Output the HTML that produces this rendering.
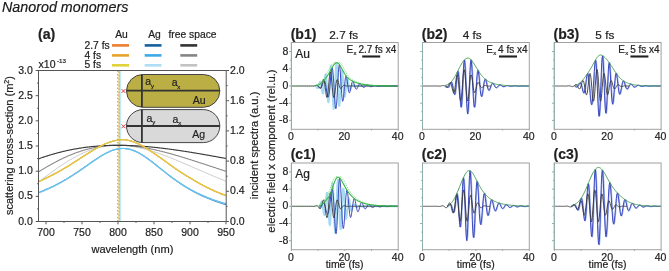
<!DOCTYPE html>
<html><head><meta charset="utf-8"><style>
html,body{margin:0;padding:0;background:#fff;}
svg{display:block;font-family:"Liberation Sans", sans-serif;will-change:transform;}
</style></head><body>
<svg width="669" height="271" viewBox="0 0 669 271">
<rect width="669" height="271" fill="#fff"/>
<text x="2.00" y="11.85" font-size="14.3" text-anchor="start" font-style="italic" fill="#1a1a1a" stroke="#1a1a1a" stroke-width="0.2" >Nanorod monomers</text>
<text x="38.00" y="39.00" font-size="14.2" text-anchor="start" font-weight="bold" fill="#222" stroke="#222" stroke-width="0.2" >(a)</text>
<text x="121.50" y="37.60" font-size="10.3" text-anchor="middle" fill="#222" stroke="#222" stroke-width="0.2" >Au</text>
<text x="154.50" y="37.60" font-size="10.3" text-anchor="middle" fill="#222" stroke="#222" stroke-width="0.2" >Ag</text>
<text x="192.50" y="37.60" font-size="10.3" text-anchor="middle" fill="#222" stroke="#222" stroke-width="0.2" >free space</text>
<text x="84.50" y="48.50" font-size="10.3" text-anchor="start" fill="#222" stroke="#222" stroke-width="0.2" >2.7 fs</text>
<text x="84.50" y="58.50" font-size="10.3" text-anchor="start" fill="#222" stroke="#222" stroke-width="0.2" >4 fs</text>
<text x="84.50" y="68.40" font-size="10.3" text-anchor="start" fill="#222" stroke="#222" stroke-width="0.2" >5 fs</text>
<line x1="112.00" y1="45.40" x2="129.00" y2="45.40" stroke="#ED7D31" stroke-width="2.6" />
<line x1="144.70" y1="45.40" x2="161.50" y2="45.40" stroke="#13609F" stroke-width="2.6" />
<line x1="180.30" y1="45.40" x2="197.20" y2="45.40" stroke="#333333" stroke-width="2.6" />
<line x1="112.00" y1="55.40" x2="129.00" y2="55.40" stroke="#E6A42B" stroke-width="2.6" />
<line x1="144.70" y1="55.40" x2="161.50" y2="55.40" stroke="#3CAAE6" stroke-width="2.6" />
<line x1="180.30" y1="55.40" x2="197.20" y2="55.40" stroke="#858585" stroke-width="2.6" />
<line x1="112.00" y1="65.30" x2="129.00" y2="65.30" stroke="#E2D23A" stroke-width="2.6" />
<line x1="144.70" y1="65.30" x2="161.50" y2="65.30" stroke="#AEDDF4" stroke-width="2.6" />
<line x1="180.30" y1="65.30" x2="197.20" y2="65.30" stroke="#C3C3C3" stroke-width="2.6" />
<text x="38.60" y="68.00" font-size="10.5" text-anchor="start" fill="#222" stroke="#222" stroke-width="0.2" >x10</text>
<text x="57.00" y="62.80" font-size="6.2" text-anchor="start" fill="#222" stroke="#222" stroke-width="0.2" >-13</text>
<clipPath id="ca"><rect x="38.5" y="70.5" width="187.7" height="151"/></clipPath>
<g clip-path="url(#ca)">
<line x1="117.8" y1="70.5" x2="117.8" y2="221" stroke="#A2AABA" stroke-width="1.4" stroke-dasharray="1.5 1.9"/>
<line x1="119.2" y1="70.5" x2="119.2" y2="221" stroke="#E9CC68" stroke-width="1.3"/>
<line x1="119.2" y1="71.5" x2="119.2" y2="221" stroke="#E6B050" stroke-width="1.3" stroke-dasharray="1.5 1.9"/>
<line x1="120.6" y1="70.5" x2="120.6" y2="221" stroke="#C4EAF4" stroke-width="1.3"/>
<polyline points="38.44,182.02 39.07,181.55 39.69,181.07 40.32,180.60 40.95,180.13 41.58,179.66 42.20,179.18 42.83,178.71 43.46,178.24 44.09,177.77 44.71,177.30 45.34,176.83 45.97,176.36 46.59,175.89 47.22,175.43 47.85,174.96 48.48,174.50 49.10,174.03 49.73,173.57 50.36,173.11 50.99,172.65 51.61,172.19 52.24,171.74 52.87,171.28 53.49,170.83 54.12,170.38 54.75,169.93 55.38,169.49 56.00,169.04 56.63,168.60 57.26,168.16 57.89,167.72 58.51,167.29 59.14,166.86 59.77,166.43 60.40,166.00 61.02,165.58 61.65,165.16 62.28,164.74 62.90,164.33 63.53,163.92 64.16,163.51 64.79,163.10 65.41,162.70 66.04,162.30 66.67,161.91 67.30,161.52 67.92,161.13 68.55,160.75 69.18,160.37 69.80,159.99 70.43,159.62 71.06,159.25 71.69,158.89 72.31,158.53 72.94,158.18 73.57,157.82 74.20,157.48 74.82,157.13 75.45,156.80 76.08,156.46 76.70,156.13 77.33,155.81 77.96,155.48 78.59,155.17 79.21,154.86 79.84,154.55 80.47,154.25 81.10,153.95 81.72,153.66 82.35,153.37 82.98,153.08 83.60,152.81 84.23,152.53 84.86,152.26 85.49,152.00 86.11,151.74 86.74,151.49 87.37,151.24 88.00,150.99 88.62,150.75 89.25,150.52 89.88,150.29 90.51,150.07 91.13,149.85 91.76,149.64 92.39,149.43 93.01,149.23 93.64,149.03 94.27,148.83 94.90,148.65 95.52,148.46 96.15,148.29 96.78,148.11 97.41,147.95 98.03,147.79 98.66,147.63 99.29,147.48 99.91,147.33 100.54,147.19 101.17,147.06 101.80,146.92 102.42,146.80 103.05,146.68 103.68,146.56 104.31,146.45 104.93,146.35 105.56,146.25 106.19,146.15 106.81,146.06 107.44,145.98 108.07,145.90 108.70,145.83 109.32,145.76 109.95,145.69 110.58,145.63 111.21,145.58 111.83,145.53 112.46,145.48 113.09,145.44 113.71,145.41 114.34,145.38 114.97,145.35 115.60,145.33 116.22,145.32 116.85,145.31 117.48,145.30 118.11,145.30 118.73,145.30 119.36,145.31 119.99,145.32 120.62,145.34 121.24,145.36 121.87,145.39 122.50,145.42 123.12,145.45 123.75,145.49 124.38,145.53 125.01,145.58 125.63,145.63 126.26,145.69 126.89,145.75 127.52,145.82 128.14,145.88 128.77,145.96 129.40,146.03 130.02,146.12 130.65,146.20 131.28,146.29 131.91,146.38 132.53,146.48 133.16,146.58 133.79,146.68 134.42,146.79 135.04,146.90 135.67,147.02 136.30,147.14 136.92,147.26 137.55,147.38 138.18,147.51 138.81,147.65 139.43,147.78 140.06,147.92 140.69,148.06 141.32,148.21 141.94,148.36 142.57,148.51 143.20,148.67 143.82,148.82 144.45,148.99 145.08,149.15 145.71,149.32 146.33,149.49 146.96,149.66 147.59,149.84 148.22,150.02 148.84,150.20 149.47,150.38 150.10,150.57 150.73,150.76 151.35,150.95 151.98,151.14 152.61,151.34 153.23,151.54 153.86,151.74 154.49,151.95 155.12,152.15 155.74,152.36 156.37,152.57 157.00,152.78 157.63,153.00 158.25,153.22 158.88,153.44 159.51,153.66 160.13,153.88 160.76,154.10 161.39,154.33 162.02,154.56 162.64,154.79 163.27,155.02 163.90,155.26 164.53,155.49 165.15,155.73 165.78,155.97 166.41,156.21 167.03,156.45 167.66,156.69 168.29,156.94 168.92,157.18 169.54,157.43 170.17,157.68 170.80,157.93 171.43,158.18 172.05,158.43 172.68,158.68 173.31,158.94 173.93,159.19 174.56,159.45 175.19,159.71 175.82,159.97 176.44,160.23 177.07,160.49 177.70,160.75 178.33,161.01 178.95,161.27 179.58,161.54 180.21,161.80 180.84,162.07 181.46,162.33 182.09,162.60 182.72,162.87 183.34,163.13 183.97,163.40 184.60,163.67 185.23,163.94 185.85,164.21 186.48,164.48 187.11,164.75 187.74,165.02 188.36,165.29 188.99,165.56 189.62,165.83 190.24,166.11 190.87,166.38 191.50,166.65 192.13,166.92 192.75,167.19 193.38,167.47 194.01,167.74 194.64,168.01 195.26,168.29 195.89,168.56 196.52,168.83 197.14,169.10 197.77,169.38 198.40,169.65 199.03,169.92 199.65,170.19 200.28,170.47 200.91,170.74 201.54,171.01 202.16,171.28 202.79,171.55 203.42,171.82 204.04,172.09 204.67,172.36 205.30,172.63 205.93,172.90 206.55,173.17 207.18,173.44 207.81,173.71 208.44,173.98 209.06,174.25 209.69,174.52 210.32,174.78 210.95,175.05 211.57,175.31 212.20,175.58 212.83,175.84 213.45,176.11 214.08,176.37 214.71,176.64 215.34,176.90 215.96,177.16 216.59,177.42 217.22,177.68 217.85,177.94 218.47,178.20 219.10,178.46 219.73,178.72 220.35,178.97 220.98,179.23 221.61,179.49 222.24,179.74 222.86,180.00 223.49,180.25 224.12,180.50 224.75,180.75 225.37,181.00 226.00,181.25" fill="none" stroke="#C4C4C4" stroke-width="1.0" stroke-linejoin="round" />
<polyline points="38.44,171.93 39.07,171.54 39.69,171.16 40.32,170.77 40.95,170.39 41.58,170.01 42.20,169.63 42.83,169.25 43.46,168.87 44.09,168.50 44.71,168.12 45.34,167.75 45.97,167.38 46.59,167.02 47.22,166.65 47.85,166.29 48.48,165.93 49.10,165.57 49.73,165.22 50.36,164.86 50.99,164.51 51.61,164.16 52.24,163.82 52.87,163.47 53.49,163.13 54.12,162.79 54.75,162.46 55.38,162.12 56.00,161.79 56.63,161.46 57.26,161.14 57.89,160.81 58.51,160.49 59.14,160.18 59.77,159.86 60.40,159.55 61.02,159.24 61.65,158.94 62.28,158.63 62.90,158.34 63.53,158.04 64.16,157.75 64.79,157.46 65.41,157.17 66.04,156.88 66.67,156.60 67.30,156.33 67.92,156.05 68.55,155.78 69.18,155.51 69.80,155.25 70.43,154.99 71.06,154.73 71.69,154.47 72.31,154.22 72.94,153.97 73.57,153.73 74.20,153.49 74.82,153.25 75.45,153.02 76.08,152.78 76.70,152.56 77.33,152.33 77.96,152.11 78.59,151.90 79.21,151.68 79.84,151.47 80.47,151.27 81.10,151.06 81.72,150.86 82.35,150.67 82.98,150.48 83.60,150.29 84.23,150.10 84.86,149.92 85.49,149.74 86.11,149.57 86.74,149.40 87.37,149.23 88.00,149.07 88.62,148.91 89.25,148.75 89.88,148.60 90.51,148.45 91.13,148.30 91.76,148.16 92.39,148.02 93.01,147.89 93.64,147.75 94.27,147.63 94.90,147.50 95.52,147.38 96.15,147.26 96.78,147.15 97.41,147.04 98.03,146.93 98.66,146.83 99.29,146.73 99.91,146.63 100.54,146.54 101.17,146.45 101.80,146.36 102.42,146.28 103.05,146.20 103.68,146.13 104.31,146.06 104.93,145.99 105.56,145.92 106.19,145.86 106.81,145.80 107.44,145.74 108.07,145.69 108.70,145.64 109.32,145.60 109.95,145.56 110.58,145.52 111.21,145.48 111.83,145.45 112.46,145.42 113.09,145.39 113.71,145.37 114.34,145.35 114.97,145.34 115.60,145.32 116.22,145.31 116.85,145.31 117.48,145.30 118.11,145.30 118.73,145.30 119.36,145.31 119.99,145.32 120.62,145.33 121.24,145.34 121.87,145.36 122.50,145.38 123.12,145.40 123.75,145.42 124.38,145.45 125.01,145.48 125.63,145.52 126.26,145.56 126.89,145.59 127.52,145.64 128.14,145.68 128.77,145.73 129.40,145.78 130.02,145.83 130.65,145.89 131.28,145.95 131.91,146.01 132.53,146.07 133.16,146.14 133.79,146.21 134.42,146.28 135.04,146.35 135.67,146.42 136.30,146.50 136.92,146.58 137.55,146.67 138.18,146.75 138.81,146.84 139.43,146.93 140.06,147.02 140.69,147.12 141.32,147.21 141.94,147.31 142.57,147.41 143.20,147.51 143.82,147.62 144.45,147.73 145.08,147.84 145.71,147.95 146.33,148.06 146.96,148.18 147.59,148.29 148.22,148.41 148.84,148.53 149.47,148.66 150.10,148.78 150.73,148.91 151.35,149.04 151.98,149.17 152.61,149.30 153.23,149.43 153.86,149.57 154.49,149.71 155.12,149.85 155.74,149.99 156.37,150.13 157.00,150.27 157.63,150.42 158.25,150.57 158.88,150.71 159.51,150.86 160.13,151.02 160.76,151.17 161.39,151.32 162.02,151.48 162.64,151.64 163.27,151.80 163.90,151.96 164.53,152.12 165.15,152.28 165.78,152.44 166.41,152.61 167.03,152.78 167.66,152.94 168.29,153.11 168.92,153.28 169.54,153.46 170.17,153.63 170.80,153.80 171.43,153.98 172.05,154.15 172.68,154.33 173.31,154.51 173.93,154.69 174.56,154.87 175.19,155.05 175.82,155.23 176.44,155.41 177.07,155.59 177.70,155.78 178.33,155.96 178.95,156.15 179.58,156.34 180.21,156.53 180.84,156.71 181.46,156.90 182.09,157.09 182.72,157.28 183.34,157.48 183.97,157.67 184.60,157.86 185.23,158.06 185.85,158.25 186.48,158.44 187.11,158.64 187.74,158.84 188.36,159.03 188.99,159.23 189.62,159.43 190.24,159.63 190.87,159.83 191.50,160.02 192.13,160.22 192.75,160.42 193.38,160.63 194.01,160.83 194.64,161.03 195.26,161.23 195.89,161.43 196.52,161.63 197.14,161.84 197.77,162.04 198.40,162.24 199.03,162.45 199.65,162.65 200.28,162.86 200.91,163.06 201.54,163.27 202.16,163.47 202.79,163.68 203.42,163.88 204.04,164.09 204.67,164.29 205.30,164.50 205.93,164.71 206.55,164.91 207.18,165.12 207.81,165.32 208.44,165.53 209.06,165.74 209.69,165.94 210.32,166.15 210.95,166.36 211.57,166.56 212.20,166.77 212.83,166.98 213.45,167.19 214.08,167.39 214.71,167.60 215.34,167.81 215.96,168.01 216.59,168.22 217.22,168.43 217.85,168.63 218.47,168.84 219.10,169.04 219.73,169.25 220.35,169.46 220.98,169.66 221.61,169.87 222.24,170.07 222.86,170.28 223.49,170.48 224.12,170.69 224.75,170.89 225.37,171.10 226.00,171.30" fill="none" stroke="#8A8A8A" stroke-width="1.1" stroke-linejoin="round" />
<polyline points="38.44,158.87 39.07,158.65 39.69,158.42 40.32,158.20 40.95,157.99 41.58,157.77 42.20,157.56 42.83,157.34 43.46,157.13 44.09,156.92 44.71,156.72 45.34,156.51 45.97,156.31 46.59,156.11 47.22,155.91 47.85,155.71 48.48,155.51 49.10,155.32 49.73,155.13 50.36,154.94 50.99,154.75 51.61,154.56 52.24,154.38 52.87,154.20 53.49,154.02 54.12,153.84 54.75,153.66 55.38,153.49 56.00,153.32 56.63,153.14 57.26,152.98 57.89,152.81 58.51,152.64 59.14,152.48 59.77,152.32 60.40,152.16 61.02,152.00 61.65,151.85 62.28,151.69 62.90,151.54 63.53,151.39 64.16,151.25 64.79,151.10 65.41,150.96 66.04,150.81 66.67,150.67 67.30,150.54 67.92,150.40 68.55,150.27 69.18,150.13 69.80,150.00 70.43,149.88 71.06,149.75 71.69,149.62 72.31,149.50 72.94,149.38 73.57,149.26 74.20,149.14 74.82,149.03 75.45,148.92 76.08,148.81 76.70,148.70 77.33,148.59 77.96,148.48 78.59,148.38 79.21,148.28 79.84,148.18 80.47,148.08 81.10,147.98 81.72,147.89 82.35,147.79 82.98,147.70 83.60,147.61 84.23,147.53 84.86,147.44 85.49,147.36 86.11,147.27 86.74,147.19 87.37,147.12 88.00,147.04 88.62,146.96 89.25,146.89 89.88,146.82 90.51,146.75 91.13,146.68 91.76,146.62 92.39,146.55 93.01,146.49 93.64,146.43 94.27,146.37 94.90,146.31 95.52,146.25 96.15,146.20 96.78,146.15 97.41,146.10 98.03,146.05 98.66,146.00 99.29,145.95 99.91,145.91 100.54,145.87 101.17,145.83 101.80,145.79 102.42,145.75 103.05,145.71 103.68,145.68 104.31,145.64 104.93,145.61 105.56,145.58 106.19,145.55 106.81,145.53 107.44,145.50 108.07,145.48 108.70,145.46 109.32,145.44 109.95,145.42 110.58,145.40 111.21,145.38 111.83,145.37 112.46,145.35 113.09,145.34 113.71,145.33 114.34,145.32 114.97,145.32 115.60,145.31 116.22,145.31 116.85,145.30 117.48,145.30 118.11,145.30 118.73,145.30 119.36,145.30 119.99,145.31 120.62,145.31 121.24,145.32 121.87,145.33 122.50,145.33 123.12,145.35 123.75,145.36 124.38,145.37 125.01,145.38 125.63,145.40 126.26,145.42 126.89,145.43 127.52,145.45 128.14,145.47 128.77,145.50 129.40,145.52 130.02,145.54 130.65,145.57 131.28,145.60 131.91,145.62 132.53,145.65 133.16,145.68 133.79,145.71 134.42,145.75 135.04,145.78 135.67,145.81 136.30,145.85 136.92,145.89 137.55,145.93 138.18,145.96 138.81,146.00 139.43,146.05 140.06,146.09 140.69,146.13 141.32,146.18 141.94,146.22 142.57,146.27 143.20,146.32 143.82,146.37 144.45,146.41 145.08,146.47 145.71,146.52 146.33,146.57 146.96,146.62 147.59,146.68 148.22,146.73 148.84,146.79 149.47,146.85 150.10,146.91 150.73,146.96 151.35,147.03 151.98,147.09 152.61,147.15 153.23,147.21 153.86,147.27 154.49,147.34 155.12,147.40 155.74,147.47 156.37,147.54 157.00,147.61 157.63,147.68 158.25,147.74 158.88,147.82 159.51,147.89 160.13,147.96 160.76,148.03 161.39,148.11 162.02,148.18 162.64,148.25 163.27,148.33 163.90,148.41 164.53,148.48 165.15,148.56 165.78,148.64 166.41,148.72 167.03,148.80 167.66,148.88 168.29,148.96 168.92,149.05 169.54,149.13 170.17,149.21 170.80,149.30 171.43,149.38 172.05,149.47 172.68,149.55 173.31,149.64 173.93,149.73 174.56,149.82 175.19,149.91 175.82,149.99 176.44,150.08 177.07,150.18 177.70,150.27 178.33,150.36 178.95,150.45 179.58,150.54 180.21,150.64 180.84,150.73 181.46,150.82 182.09,150.92 182.72,151.01 183.34,151.11 183.97,151.21 184.60,151.30 185.23,151.40 185.85,151.50 186.48,151.60 187.11,151.70 187.74,151.80 188.36,151.90 188.99,152.00 189.62,152.10 190.24,152.20 190.87,152.30 191.50,152.40 192.13,152.50 192.75,152.61 193.38,152.71 194.01,152.81 194.64,152.92 195.26,153.02 195.89,153.13 196.52,153.23 197.14,153.34 197.77,153.45 198.40,153.55 199.03,153.66 199.65,153.77 200.28,153.87 200.91,153.98 201.54,154.09 202.16,154.20 202.79,154.31 203.42,154.41 204.04,154.52 204.67,154.63 205.30,154.74 205.93,154.85 206.55,154.96 207.18,155.08 207.81,155.19 208.44,155.30 209.06,155.41 209.69,155.52 210.32,155.63 210.95,155.75 211.57,155.86 212.20,155.97 212.83,156.09 213.45,156.20 214.08,156.31 214.71,156.43 215.34,156.54 215.96,156.65 216.59,156.77 217.22,156.88 217.85,157.00 218.47,157.11 219.10,157.23 219.73,157.34 220.35,157.46 220.98,157.58 221.61,157.69 222.24,157.81 222.86,157.92 223.49,158.04 224.12,158.16 224.75,158.27 225.37,158.39 226.00,158.51" fill="none" stroke="#3C3C3C" stroke-width="1.15" stroke-linejoin="round" />
<polyline points="38.44,192.63 39.07,192.39 39.69,192.15 40.32,191.90 40.95,191.66 41.58,191.41 42.20,191.16 42.83,190.91 43.46,190.65 44.09,190.39 44.71,190.13 45.34,189.86 45.97,189.59 46.59,189.32 47.22,189.05 47.85,188.77 48.48,188.49 49.10,188.21 49.73,187.92 50.36,187.63 50.99,187.34 51.61,187.04 52.24,186.74 52.87,186.44 53.49,186.14 54.12,185.83 54.75,185.52 55.38,185.20 56.00,184.89 56.63,184.57 57.26,184.24 57.89,183.91 58.51,183.58 59.14,183.25 59.77,182.91 60.40,182.57 61.02,182.23 61.65,181.88 62.28,181.53 62.90,181.18 63.53,180.82 64.16,180.46 64.79,180.10 65.41,179.73 66.04,179.36 66.67,178.99 67.30,178.61 67.92,178.23 68.55,177.85 69.18,177.47 69.80,177.08 70.43,176.69 71.06,176.29 71.69,175.90 72.31,175.50 72.94,175.09 73.57,174.69 74.20,174.28 74.82,173.87 75.45,173.46 76.08,173.04 76.70,172.62 77.33,172.20 77.96,171.78 78.59,171.35 79.21,170.93 79.84,170.50 80.47,170.07 81.10,169.64 81.72,169.20 82.35,168.77 82.98,168.33 83.60,167.89 84.23,167.45 84.86,167.01 85.49,166.57 86.11,166.13 86.74,165.69 87.37,165.25 88.00,164.81 88.62,164.37 89.25,163.93 89.88,163.49 90.51,163.05 91.13,162.61 91.76,162.18 92.39,161.74 93.01,161.31 93.64,160.88 94.27,160.45 94.90,160.02 95.52,159.60 96.15,159.18 96.78,158.76 97.41,158.35 98.03,157.94 98.66,157.54 99.29,157.14 99.91,156.74 100.54,156.35 101.17,155.97 101.80,155.59 102.42,155.22 103.05,154.85 103.68,154.50 104.31,154.14 104.93,153.80 105.56,153.47 106.19,153.14 106.81,152.82 107.44,152.51 108.07,152.21 108.70,151.91 109.32,151.63 109.95,151.36 110.58,151.10 111.21,150.85 111.83,150.61 112.46,150.38 113.09,150.16 113.71,149.96 114.34,149.77 114.97,149.59 115.60,149.42 116.22,149.26 116.85,149.12 117.48,148.99 118.11,148.88 118.73,148.78 119.36,148.69 119.99,148.61 120.62,148.55 121.24,148.51 121.87,148.48 122.50,148.46 123.12,148.46 123.75,148.47 124.38,148.50 125.01,148.54 125.63,148.59 126.26,148.66 126.89,148.75 127.52,148.85 128.14,148.96 128.77,149.09 129.40,149.23 130.02,149.39 130.65,149.56 131.28,149.74 131.91,149.94 132.53,150.15 133.16,150.38 133.79,150.62 134.42,150.87 135.04,151.13 135.67,151.41 136.30,151.70 136.92,152.00 137.55,152.31 138.18,152.63 138.81,152.96 139.43,153.31 140.06,153.66 140.69,154.03 141.32,154.40 141.94,154.78 142.57,155.18 143.20,155.58 143.82,155.99 144.45,156.40 145.08,156.83 145.71,157.26 146.33,157.70 146.96,158.14 147.59,158.59 148.22,159.05 148.84,159.51 149.47,159.98 150.10,160.45 150.73,160.93 151.35,161.41 151.98,161.89 152.61,162.38 153.23,162.87 153.86,163.36 154.49,163.86 155.12,164.35 155.74,164.85 156.37,165.35 157.00,165.86 157.63,166.36 158.25,166.86 158.88,167.37 159.51,167.87 160.13,168.38 160.76,168.88 161.39,169.38 162.02,169.89 162.64,170.39 163.27,170.89 163.90,171.39 164.53,171.89 165.15,172.39 165.78,172.88 166.41,173.38 167.03,173.87 167.66,174.36 168.29,174.84 168.92,175.33 169.54,175.81 170.17,176.29 170.80,176.77 171.43,177.24 172.05,177.71 172.68,178.17 173.31,178.64 173.93,179.10 174.56,179.55 175.19,180.01 175.82,180.46 176.44,180.90 177.07,181.35 177.70,181.78 178.33,182.22 178.95,182.65 179.58,183.08 180.21,183.50 180.84,183.92 181.46,184.34 182.09,184.75 182.72,185.16 183.34,185.56 183.97,185.96 184.60,186.36 185.23,186.75 185.85,187.14 186.48,187.52 187.11,187.90 187.74,188.27 188.36,188.65 188.99,189.01 189.62,189.38 190.24,189.74 190.87,190.09 191.50,190.45 192.13,190.79 192.75,191.14 193.38,191.48 194.01,191.82 194.64,192.15 195.26,192.48 195.89,192.80 196.52,193.12 197.14,193.44 197.77,193.76 198.40,194.07 199.03,194.37 199.65,194.68 200.28,194.98 200.91,195.27 201.54,195.56 202.16,195.85 202.79,196.14 203.42,196.42 204.04,196.70 204.67,196.98 205.30,197.25 205.93,197.52 206.55,197.78 207.18,198.05 207.81,198.31 208.44,198.56 209.06,198.82 209.69,199.07 210.32,199.31 210.95,199.56 211.57,199.80 212.20,200.04 212.83,200.27 213.45,200.51 214.08,200.74 214.71,200.96 215.34,201.19 215.96,201.41 216.59,201.63 217.22,201.85 217.85,202.06 218.47,202.27 219.10,202.48 219.73,202.69 220.35,202.89 220.98,203.09 221.61,203.29 222.24,203.49 222.86,203.68 223.49,203.88 224.12,204.07 224.75,204.25 225.37,204.43 226.00,204.61" fill="none" stroke="#2C7CC0" stroke-width="1.1" stroke-linejoin="round" />
<polyline points="38.44,193.23 39.07,192.99 39.69,192.75 40.32,192.50 40.95,192.25 41.58,192.00 42.20,191.74 42.83,191.48 43.46,191.22 44.09,190.95 44.71,190.69 45.34,190.42 45.97,190.14 46.59,189.86 47.22,189.59 47.85,189.30 48.48,189.02 49.10,188.73 49.73,188.44 50.36,188.14 50.99,187.84 51.61,187.54 52.24,187.24 52.87,186.93 53.49,186.62 54.12,186.31 54.75,185.99 55.38,185.67 56.00,185.35 56.63,185.02 57.26,184.69 57.89,184.36 58.51,184.03 59.14,183.69 59.77,183.34 60.40,183.00 61.02,182.65 61.65,182.30 62.28,181.94 62.90,181.58 63.53,181.22 64.16,180.85 64.79,180.49 65.41,180.11 66.04,179.74 66.67,179.36 67.30,178.98 67.92,178.60 68.55,178.21 69.18,177.82 69.80,177.42 70.43,177.03 71.06,176.63 71.69,176.23 72.31,175.82 72.94,175.41 73.57,175.00 74.20,174.59 74.82,174.17 75.45,173.75 76.08,173.33 76.70,172.91 77.33,172.48 77.96,172.05 78.59,171.62 79.21,171.19 79.84,170.76 80.47,170.32 81.10,169.88 81.72,169.44 82.35,169.00 82.98,168.56 83.60,168.12 84.23,167.67 84.86,167.23 85.49,166.78 86.11,166.34 86.74,165.89 87.37,165.45 88.00,165.00 88.62,164.55 89.25,164.11 89.88,163.66 90.51,163.22 91.13,162.77 91.76,162.33 92.39,161.89 93.01,161.45 93.64,161.02 94.27,160.58 94.90,160.15 95.52,159.72 96.15,159.30 96.78,158.88 97.41,158.46 98.03,158.05 98.66,157.64 99.29,157.23 99.91,156.83 100.54,156.44 101.17,156.05 101.80,155.66 102.42,155.28 103.05,154.91 103.68,154.55 104.31,154.19 104.93,153.84 105.56,153.50 106.19,153.17 106.81,152.85 107.44,152.53 108.07,152.22 108.70,151.93 109.32,151.64 109.95,151.36 110.58,151.10 111.21,150.85 111.83,150.61 112.46,150.38 113.09,150.16 113.71,149.96 114.34,149.77 114.97,149.59 115.60,149.42 116.22,149.26 116.85,149.12 117.48,148.99 118.11,148.88 118.73,148.78 119.36,148.69 119.99,148.61 120.62,148.55 121.24,148.51 121.87,148.48 122.50,148.46 123.12,148.46 123.75,148.47 124.38,148.50 125.01,148.54 125.63,148.59 126.26,148.66 126.89,148.75 127.52,148.85 128.14,148.96 128.77,149.09 129.40,149.23 130.02,149.39 130.65,149.56 131.28,149.74 131.91,149.94 132.53,150.15 133.16,150.37 133.79,150.61 134.42,150.86 135.04,151.12 135.67,151.39 136.30,151.68 136.92,151.98 137.55,152.29 138.18,152.61 138.81,152.94 139.43,153.28 140.06,153.63 140.69,153.99 141.32,154.36 141.94,154.74 142.57,155.13 143.20,155.53 143.82,155.94 144.45,156.35 145.08,156.77 145.71,157.20 146.33,157.63 146.96,158.07 147.59,158.52 148.22,158.97 148.84,159.43 149.47,159.89 150.10,160.36 150.73,160.83 151.35,161.31 151.98,161.79 152.61,162.27 153.23,162.76 153.86,163.25 154.49,163.74 155.12,164.23 155.74,164.73 156.37,165.22 157.00,165.72 157.63,166.22 158.25,166.72 158.88,167.22 159.51,167.72 160.13,168.22 160.76,168.71 161.39,169.21 162.02,169.71 162.64,170.21 163.27,170.71 163.90,171.20 164.53,171.69 165.15,172.19 165.78,172.68 166.41,173.16 167.03,173.65 167.66,174.13 168.29,174.61 168.92,175.09 169.54,175.57 170.17,176.04 170.80,176.51 171.43,176.98 172.05,177.44 172.68,177.90 173.31,178.36 173.93,178.82 174.56,179.27 175.19,179.71 175.82,180.16 176.44,180.60 177.07,181.03 177.70,181.46 178.33,181.89 178.95,182.32 179.58,182.74 180.21,183.16 180.84,183.57 181.46,183.98 182.09,184.38 182.72,184.78 183.34,185.18 183.97,185.57 184.60,185.96 185.23,186.35 185.85,186.73 186.48,187.11 187.11,187.48 187.74,187.85 188.36,188.21 188.99,188.57 189.62,188.93 190.24,189.28 190.87,189.63 191.50,189.98 192.13,190.32 192.75,190.65 193.38,190.99 194.01,191.32 194.64,191.64 195.26,191.96 195.89,192.28 196.52,192.60 197.14,192.91 197.77,193.21 198.40,193.52 199.03,193.81 199.65,194.11 200.28,194.40 200.91,194.69 201.54,194.98 202.16,195.26 202.79,195.54 203.42,195.81 204.04,196.08 204.67,196.35 205.30,196.61 205.93,196.87 206.55,197.13 207.18,197.39 207.81,197.64 208.44,197.89 209.06,198.13 209.69,198.37 210.32,198.61 210.95,198.85 211.57,199.08 212.20,199.31 212.83,199.54 213.45,199.77 214.08,199.99 214.71,200.21 215.34,200.42 215.96,200.64 216.59,200.85 217.22,201.06 217.85,201.26 218.47,201.46 219.10,201.66 219.73,201.86 220.35,202.06 220.98,202.25 221.61,202.44 222.24,202.63 222.86,202.81 223.49,203.00 224.12,203.18 224.75,203.36 225.37,203.53 226.00,203.71" fill="none" stroke="#A9DDF5" stroke-width="1.2" stroke-linejoin="round" />
<polyline points="38.44,192.63 39.07,192.39 39.69,192.15 40.32,191.90 40.95,191.66 41.58,191.41 42.20,191.16 42.83,190.91 43.46,190.65 44.09,190.39 44.71,190.13 45.34,189.86 45.97,189.59 46.59,189.32 47.22,189.05 47.85,188.77 48.48,188.49 49.10,188.21 49.73,187.92 50.36,187.63 50.99,187.34 51.61,187.04 52.24,186.74 52.87,186.44 53.49,186.14 54.12,185.83 54.75,185.52 55.38,185.20 56.00,184.89 56.63,184.57 57.26,184.24 57.89,183.91 58.51,183.58 59.14,183.25 59.77,182.91 60.40,182.57 61.02,182.23 61.65,181.88 62.28,181.53 62.90,181.18 63.53,180.82 64.16,180.46 64.79,180.10 65.41,179.73 66.04,179.36 66.67,178.99 67.30,178.61 67.92,178.23 68.55,177.85 69.18,177.47 69.80,177.08 70.43,176.69 71.06,176.29 71.69,175.90 72.31,175.50 72.94,175.09 73.57,174.69 74.20,174.28 74.82,173.87 75.45,173.46 76.08,173.04 76.70,172.62 77.33,172.20 77.96,171.78 78.59,171.35 79.21,170.93 79.84,170.50 80.47,170.07 81.10,169.64 81.72,169.20 82.35,168.77 82.98,168.33 83.60,167.89 84.23,167.45 84.86,167.01 85.49,166.57 86.11,166.13 86.74,165.69 87.37,165.25 88.00,164.81 88.62,164.37 89.25,163.93 89.88,163.49 90.51,163.05 91.13,162.61 91.76,162.18 92.39,161.74 93.01,161.31 93.64,160.88 94.27,160.45 94.90,160.02 95.52,159.60 96.15,159.18 96.78,158.76 97.41,158.35 98.03,157.94 98.66,157.54 99.29,157.14 99.91,156.74 100.54,156.35 101.17,155.97 101.80,155.59 102.42,155.22 103.05,154.85 103.68,154.50 104.31,154.14 104.93,153.80 105.56,153.47 106.19,153.14 106.81,152.82 107.44,152.51 108.07,152.21 108.70,151.91 109.32,151.63 109.95,151.36 110.58,151.10 111.21,150.85 111.83,150.61 112.46,150.38 113.09,150.16 113.71,149.96 114.34,149.77 114.97,149.59 115.60,149.42 116.22,149.26 116.85,149.12 117.48,148.99 118.11,148.88 118.73,148.78 119.36,148.69 119.99,148.61 120.62,148.55 121.24,148.51 121.87,148.48 122.50,148.46 123.12,148.46 123.75,148.47 124.38,148.50 125.01,148.54 125.63,148.59 126.26,148.66 126.89,148.75 127.52,148.85 128.14,148.96 128.77,149.09 129.40,149.23 130.02,149.39 130.65,149.56 131.28,149.74 131.91,149.94 132.53,150.15 133.16,150.37 133.79,150.61 134.42,150.86 135.04,151.12 135.67,151.39 136.30,151.68 136.92,151.98 137.55,152.29 138.18,152.61 138.81,152.94 139.43,153.28 140.06,153.63 140.69,153.99 141.32,154.36 141.94,154.74 142.57,155.13 143.20,155.53 143.82,155.94 144.45,156.35 145.08,156.77 145.71,157.20 146.33,157.63 146.96,158.07 147.59,158.52 148.22,158.97 148.84,159.43 149.47,159.89 150.10,160.36 150.73,160.83 151.35,161.31 151.98,161.79 152.61,162.27 153.23,162.76 153.86,163.25 154.49,163.74 155.12,164.23 155.74,164.73 156.37,165.22 157.00,165.72 157.63,166.22 158.25,166.72 158.88,167.22 159.51,167.72 160.13,168.22 160.76,168.71 161.39,169.21 162.02,169.71 162.64,170.21 163.27,170.71 163.90,171.20 164.53,171.69 165.15,172.19 165.78,172.68 166.41,173.16 167.03,173.65 167.66,174.13 168.29,174.61 168.92,175.09 169.54,175.57 170.17,176.04 170.80,176.51 171.43,176.98 172.05,177.44 172.68,177.90 173.31,178.36 173.93,178.82 174.56,179.27 175.19,179.71 175.82,180.16 176.44,180.60 177.07,181.03 177.70,181.46 178.33,181.89 178.95,182.32 179.58,182.74 180.21,183.16 180.84,183.57 181.46,183.98 182.09,184.38 182.72,184.78 183.34,185.18 183.97,185.57 184.60,185.96 185.23,186.35 185.85,186.73 186.48,187.11 187.11,187.48 187.74,187.85 188.36,188.21 188.99,188.57 189.62,188.93 190.24,189.28 190.87,189.63 191.50,189.98 192.13,190.32 192.75,190.65 193.38,190.99 194.01,191.32 194.64,191.64 195.26,191.96 195.89,192.28 196.52,192.60 197.14,192.91 197.77,193.21 198.40,193.52 199.03,193.81 199.65,194.11 200.28,194.40 200.91,194.69 201.54,194.98 202.16,195.26 202.79,195.54 203.42,195.81 204.04,196.08 204.67,196.35 205.30,196.61 205.93,196.87 206.55,197.13 207.18,197.39 207.81,197.64 208.44,197.89 209.06,198.13 209.69,198.37 210.32,198.61 210.95,198.85 211.57,199.08 212.20,199.31 212.83,199.54 213.45,199.77 214.08,199.99 214.71,200.21 215.34,200.42 215.96,200.64 216.59,200.85 217.22,201.06 217.85,201.26 218.47,201.46 219.10,201.66 219.73,201.86 220.35,202.06 220.98,202.25 221.61,202.44 222.24,202.63 222.86,202.81 223.49,203.00 224.12,203.18 224.75,203.36 225.37,203.53 226.00,203.71" fill="none" stroke="#62BFEA" stroke-width="1.1" stroke-linejoin="round" />
<polyline points="38.44,181.61 39.07,181.33 39.69,181.04 40.32,180.76 40.95,180.47 41.58,180.18 42.20,179.89 42.83,179.59 43.46,179.29 44.09,178.99 44.71,178.69 45.34,178.39 45.97,178.09 46.59,177.79 47.22,177.49 47.85,177.18 48.48,176.88 49.10,176.57 49.73,176.25 50.36,175.94 50.99,175.62 51.61,175.30 52.24,174.98 52.87,174.66 53.49,174.33 54.12,174.00 54.75,173.67 55.38,173.33 56.00,173.00 56.63,172.66 57.26,172.32 57.89,171.98 58.51,171.63 59.14,171.29 59.77,170.94 60.40,170.59 61.02,170.23 61.65,169.88 62.28,169.52 62.90,169.16 63.53,168.80 64.16,168.44 64.79,168.08 65.41,167.71 66.04,167.34 66.67,166.97 67.30,166.60 67.92,166.23 68.55,165.84 69.18,165.44 69.80,165.05 70.43,164.65 71.06,164.25 71.69,163.85 72.31,163.45 72.94,163.04 73.57,162.64 74.20,162.24 74.82,161.83 75.45,161.43 76.08,161.02 76.70,160.61 77.33,160.21 77.96,159.80 78.59,159.39 79.21,158.98 79.84,158.58 80.47,158.17 81.10,157.76 81.72,157.36 82.35,156.95 82.98,156.55 83.60,156.14 84.23,155.74 84.86,155.34 85.49,154.94 86.11,154.54 86.74,154.14 87.37,153.75 88.00,153.35 88.62,152.96 89.25,152.57 89.88,152.18 90.51,151.80 91.13,151.42 91.76,151.04 92.39,150.66 93.01,150.29 93.64,149.92 94.27,149.56 94.90,149.20 95.52,148.84 96.15,148.49 96.78,148.14 97.41,147.79 98.03,147.46 98.66,147.12 99.29,146.79 99.91,146.47 100.54,146.14 101.17,145.82 101.80,145.51 102.42,145.20 103.05,144.90 103.68,144.60 104.31,144.31 104.93,144.03 105.56,143.75 106.19,143.49 106.81,143.23 107.44,142.98 108.07,142.73 108.70,142.50 109.32,142.27 109.95,142.05 110.58,141.84 111.21,141.64 111.83,141.44 112.46,141.26 113.09,141.09 113.71,140.92 114.34,140.77 114.97,140.62 115.60,140.48 116.22,140.36 116.85,140.24 117.48,140.14 118.11,140.04 118.73,139.96 119.36,139.88 119.99,139.82 120.62,139.76 121.24,139.72 121.87,139.69 122.50,139.67 123.12,139.66 123.75,139.66 124.38,139.70 125.01,139.77 125.63,139.86 126.26,139.95 126.89,140.06 127.52,140.18 128.14,140.30 128.77,140.44 129.40,140.59 130.02,140.75 130.65,140.92 131.28,141.10 131.91,141.30 132.53,141.50 133.16,141.71 133.79,141.93 134.42,142.17 135.04,142.41 135.67,142.66 136.30,142.92 136.92,143.19 137.55,143.47 138.18,143.76 138.81,144.06 139.43,144.37 140.06,144.68 140.69,145.01 141.32,145.34 141.94,145.68 142.57,146.03 143.20,146.38 143.82,146.75 144.45,147.12 145.08,147.50 145.71,147.88 146.33,148.27 146.96,148.67 147.59,149.08 148.22,149.49 148.84,149.90 149.47,150.32 150.10,150.75 150.73,151.18 151.35,151.62 151.98,152.06 152.61,152.47 153.23,152.88 153.86,153.30 154.49,153.72 155.12,154.15 155.74,154.58 156.37,155.01 157.00,155.44 157.63,155.88 158.25,156.32 158.88,156.77 159.51,157.21 160.13,157.66 160.76,158.11 161.39,158.56 162.02,159.01 162.64,159.46 163.27,159.92 163.90,160.37 164.53,160.83 165.15,161.28 165.78,161.74 166.41,162.20 167.03,162.66 167.66,163.12 168.29,163.57 168.92,164.03 169.54,164.49 170.17,164.94 170.80,165.40 171.43,165.85 172.05,166.31 172.68,166.76 173.31,167.21 173.93,167.66 174.56,168.11 175.19,168.55 175.82,168.97 176.44,169.40 177.07,169.81 177.70,170.23 178.33,170.65 178.95,171.06 179.58,171.47 180.21,171.88 180.84,172.29 181.46,172.69 182.09,173.09 182.72,173.49 183.34,173.89 183.97,174.28 184.60,174.68 185.23,175.07 185.85,175.45 186.48,175.84 187.11,176.22 187.74,176.60 188.36,176.97 188.99,177.35 189.62,177.72 190.24,178.09 190.87,178.49 191.50,178.88 192.13,179.27 192.75,179.65 193.38,180.03 194.01,180.41 194.64,180.79 195.26,181.16 195.89,181.53 196.52,181.90 197.14,182.26 197.77,182.62 198.40,182.98 199.03,183.33 199.65,183.68 200.28,184.03 200.91,184.38 201.54,184.72 202.16,185.06 202.79,185.39 203.42,185.73 204.04,186.06 204.67,186.38 205.30,186.71 205.93,187.03 206.55,187.35 207.18,187.66 207.81,187.97 208.44,188.28 209.06,188.59 209.69,188.89 210.32,189.19 210.95,189.49 211.57,189.78 212.20,190.08 212.83,190.37 213.45,190.65 214.08,190.93 214.71,191.21 215.34,191.49 215.96,191.77 216.59,192.04 217.22,192.31 217.85,192.58 218.47,192.84 219.10,193.10 219.73,193.36 220.35,193.62 220.98,193.87 221.61,194.12 222.24,194.37 222.86,194.62 223.49,194.86 224.12,195.10 224.75,195.34 225.37,195.57 226.00,195.80" fill="none" stroke="#E8943A" stroke-width="1.1" stroke-linejoin="round" />
<polyline points="38.44,181.91 39.07,181.63 39.69,181.34 40.32,181.06 40.95,180.76 41.58,180.47 42.20,180.18 42.83,179.88 43.46,179.58 44.09,179.28 44.71,178.97 45.34,178.67 45.97,178.37 46.59,178.07 47.22,177.76 47.85,177.45 48.48,177.14 49.10,176.83 49.73,176.51 50.36,176.19 50.99,175.87 51.61,175.55 52.24,175.23 52.87,174.90 53.49,174.57 54.12,174.24 54.75,173.91 55.38,173.57 56.00,173.23 56.63,172.89 57.26,172.55 57.89,172.20 58.51,171.85 59.14,171.51 59.77,171.15 60.40,170.80 61.02,170.44 61.65,170.09 62.28,169.73 62.90,169.37 63.53,169.00 64.16,168.64 64.79,168.27 65.41,167.90 66.04,167.53 66.67,167.16 67.30,166.79 67.92,166.41 68.55,166.02 69.18,165.62 69.80,165.22 70.43,164.82 71.06,164.42 71.69,164.01 72.31,163.61 72.94,163.20 73.57,162.80 74.20,162.39 74.82,161.98 75.45,161.57 76.08,161.17 76.70,160.76 77.33,160.35 77.96,159.94 78.59,159.53 79.21,159.12 79.84,158.71 80.47,158.30 81.10,157.89 81.72,157.48 82.35,157.07 82.98,156.66 83.60,156.26 84.23,155.85 84.86,155.45 85.49,155.04 86.11,154.64 86.74,154.24 87.37,153.84 88.00,153.45 88.62,153.05 89.25,152.66 89.88,152.27 90.51,151.88 91.13,151.50 91.76,151.12 92.39,150.74 93.01,150.37 93.64,149.99 94.27,149.63 94.90,149.26 95.52,148.90 96.15,148.55 96.78,148.20 97.41,147.85 98.03,147.51 98.66,147.17 99.29,146.84 99.91,146.51 100.54,146.18 101.17,145.86 101.80,145.54 102.42,145.23 103.05,144.93 103.68,144.63 104.31,144.34 104.93,144.05 105.56,143.77 106.19,143.50 106.81,143.24 107.44,142.99 108.07,142.74 108.70,142.50 109.32,142.27 109.95,142.05 110.58,141.84 111.21,141.64 111.83,141.44 112.46,141.26 113.09,141.09 113.71,140.92 114.34,140.77 114.97,140.62 115.60,140.48 116.22,140.36 116.85,140.24 117.48,140.14 118.11,140.04 118.73,139.96 119.36,139.88 119.99,139.82 120.62,139.76 121.24,139.72 121.87,139.69 122.50,139.67 123.12,139.66 123.75,139.66 124.38,139.70 125.01,139.77 125.63,139.86 126.26,139.95 126.89,140.06 127.52,140.18 128.14,140.30 128.77,140.44 129.40,140.59 130.02,140.75 130.65,140.92 131.28,141.10 131.91,141.30 132.53,141.50 133.16,141.71 133.79,141.93 134.42,142.16 135.04,142.40 135.67,142.65 136.30,142.91 136.92,143.18 137.55,143.46 138.18,143.75 138.81,144.05 139.43,144.36 140.06,144.67 140.69,144.99 141.32,145.32 141.94,145.66 142.57,146.01 143.20,146.37 143.82,146.73 144.45,147.10 145.08,147.47 145.71,147.86 146.33,148.25 146.96,148.64 147.59,149.05 148.22,149.46 148.84,149.87 149.47,150.29 150.10,150.72 150.73,151.15 151.35,151.58 151.98,152.02 152.61,152.43 153.23,152.84 153.86,153.26 154.49,153.68 155.12,154.10 155.74,154.53 156.37,154.96 157.00,155.39 157.63,155.83 158.25,156.27 158.88,156.71 159.51,157.15 160.13,157.59 160.76,158.04 161.39,158.49 162.02,158.94 162.64,159.39 163.27,159.84 163.90,160.30 164.53,160.75 165.15,161.21 165.78,161.66 166.41,162.12 167.03,162.57 167.66,163.03 168.29,163.48 168.92,163.94 169.54,164.39 170.17,164.85 170.80,165.30 171.43,165.75 172.05,166.20 172.68,166.66 173.31,167.10 173.93,167.55 174.56,168.00 175.19,168.44 175.82,168.86 176.44,169.28 177.07,169.69 177.70,170.11 178.33,170.52 178.95,170.93 179.58,171.34 180.21,171.75 180.84,172.15 181.46,172.55 182.09,172.95 182.72,173.35 183.34,173.74 183.97,174.13 184.60,174.52 185.23,174.91 185.85,175.29 186.48,175.68 187.11,176.06 187.74,176.43 188.36,176.80 188.99,177.17 189.62,177.54 190.24,177.92 190.87,178.31 191.50,178.70 192.13,179.08 192.75,179.46 193.38,179.84 194.01,180.22 194.64,180.59 195.26,180.96 195.89,181.33 196.52,181.69 197.14,182.05 197.77,182.41 198.40,182.76 199.03,183.12 199.65,183.46 200.28,183.81 200.91,184.15 201.54,184.49 202.16,184.83 202.79,185.16 203.42,185.49 204.04,185.82 204.67,186.14 205.30,186.46 205.93,186.78 206.55,187.09 207.18,187.41 207.81,187.71 208.44,188.02 209.06,188.32 209.69,188.62 210.32,188.92 210.95,189.21 211.57,189.51 212.20,189.79 212.83,190.08 213.45,190.36 214.08,190.64 214.71,190.92 215.34,191.19 215.96,191.47 216.59,191.73 217.22,192.00 217.85,192.26 218.47,192.53 219.10,192.78 219.73,193.04 220.35,193.29 220.98,193.54 221.61,193.79 222.24,194.04 222.86,194.28 223.49,194.52 224.12,194.76 224.75,194.99 225.37,195.22 226.00,195.45" fill="none" stroke="#E6B23A" stroke-width="1.1" stroke-linejoin="round" />
<polyline points="38.44,181.61 39.07,181.33 39.69,181.04 40.32,180.76 40.95,180.47 41.58,180.18 42.20,179.89 42.83,179.59 43.46,179.29 44.09,178.99 44.71,178.69 45.34,178.39 45.97,178.09 46.59,177.79 47.22,177.49 47.85,177.18 48.48,176.88 49.10,176.57 49.73,176.25 50.36,175.94 50.99,175.62 51.61,175.30 52.24,174.98 52.87,174.66 53.49,174.33 54.12,174.00 54.75,173.67 55.38,173.33 56.00,173.00 56.63,172.66 57.26,172.32 57.89,171.98 58.51,171.63 59.14,171.29 59.77,170.94 60.40,170.59 61.02,170.23 61.65,169.88 62.28,169.52 62.90,169.16 63.53,168.80 64.16,168.44 64.79,168.08 65.41,167.71 66.04,167.34 66.67,166.97 67.30,166.60 67.92,166.23 68.55,165.84 69.18,165.44 69.80,165.05 70.43,164.65 71.06,164.25 71.69,163.85 72.31,163.45 72.94,163.04 73.57,162.64 74.20,162.24 74.82,161.83 75.45,161.43 76.08,161.02 76.70,160.61 77.33,160.21 77.96,159.80 78.59,159.39 79.21,158.98 79.84,158.58 80.47,158.17 81.10,157.76 81.72,157.36 82.35,156.95 82.98,156.55 83.60,156.14 84.23,155.74 84.86,155.34 85.49,154.94 86.11,154.54 86.74,154.14 87.37,153.75 88.00,153.35 88.62,152.96 89.25,152.57 89.88,152.18 90.51,151.80 91.13,151.42 91.76,151.04 92.39,150.66 93.01,150.29 93.64,149.92 94.27,149.56 94.90,149.20 95.52,148.84 96.15,148.49 96.78,148.14 97.41,147.79 98.03,147.46 98.66,147.12 99.29,146.79 99.91,146.47 100.54,146.14 101.17,145.82 101.80,145.51 102.42,145.20 103.05,144.90 103.68,144.60 104.31,144.31 104.93,144.03 105.56,143.75 106.19,143.49 106.81,143.23 107.44,142.98 108.07,142.73 108.70,142.50 109.32,142.27 109.95,142.05 110.58,141.84 111.21,141.64 111.83,141.44 112.46,141.26 113.09,141.09 113.71,140.92 114.34,140.77 114.97,140.62 115.60,140.48 116.22,140.36 116.85,140.24 117.48,140.14 118.11,140.04 118.73,139.96 119.36,139.88 119.99,139.82 120.62,139.76 121.24,139.72 121.87,139.69 122.50,139.67 123.12,139.66 123.75,139.66 124.38,139.70 125.01,139.77 125.63,139.86 126.26,139.95 126.89,140.06 127.52,140.18 128.14,140.30 128.77,140.44 129.40,140.59 130.02,140.75 130.65,140.92 131.28,141.10 131.91,141.30 132.53,141.50 133.16,141.71 133.79,141.93 134.42,142.16 135.04,142.40 135.67,142.65 136.30,142.91 136.92,143.18 137.55,143.46 138.18,143.75 138.81,144.05 139.43,144.36 140.06,144.67 140.69,144.99 141.32,145.32 141.94,145.66 142.57,146.01 143.20,146.37 143.82,146.73 144.45,147.10 145.08,147.47 145.71,147.86 146.33,148.25 146.96,148.64 147.59,149.05 148.22,149.46 148.84,149.87 149.47,150.29 150.10,150.72 150.73,151.15 151.35,151.58 151.98,152.02 152.61,152.43 153.23,152.84 153.86,153.26 154.49,153.68 155.12,154.10 155.74,154.53 156.37,154.96 157.00,155.39 157.63,155.83 158.25,156.27 158.88,156.71 159.51,157.15 160.13,157.59 160.76,158.04 161.39,158.49 162.02,158.94 162.64,159.39 163.27,159.84 163.90,160.30 164.53,160.75 165.15,161.21 165.78,161.66 166.41,162.12 167.03,162.57 167.66,163.03 168.29,163.48 168.92,163.94 169.54,164.39 170.17,164.85 170.80,165.30 171.43,165.75 172.05,166.20 172.68,166.66 173.31,167.10 173.93,167.55 174.56,168.00 175.19,168.44 175.82,168.86 176.44,169.28 177.07,169.69 177.70,170.11 178.33,170.52 178.95,170.93 179.58,171.34 180.21,171.75 180.84,172.15 181.46,172.55 182.09,172.95 182.72,173.35 183.34,173.74 183.97,174.13 184.60,174.52 185.23,174.91 185.85,175.29 186.48,175.68 187.11,176.06 187.74,176.43 188.36,176.80 188.99,177.17 189.62,177.54 190.24,177.92 190.87,178.31 191.50,178.70 192.13,179.08 192.75,179.46 193.38,179.84 194.01,180.22 194.64,180.59 195.26,180.96 195.89,181.33 196.52,181.69 197.14,182.05 197.77,182.41 198.40,182.76 199.03,183.12 199.65,183.46 200.28,183.81 200.91,184.15 201.54,184.49 202.16,184.83 202.79,185.16 203.42,185.49 204.04,185.82 204.67,186.14 205.30,186.46 205.93,186.78 206.55,187.09 207.18,187.41 207.81,187.71 208.44,188.02 209.06,188.32 209.69,188.62 210.32,188.92 210.95,189.21 211.57,189.51 212.20,189.79 212.83,190.08 213.45,190.36 214.08,190.64 214.71,190.92 215.34,191.19 215.96,191.47 216.59,191.73 217.22,192.00 217.85,192.26 218.47,192.53 219.10,192.78 219.73,193.04 220.35,193.29 220.98,193.54 221.61,193.79 222.24,194.04 222.86,194.28 223.49,194.52 224.12,194.76 224.75,194.99 225.37,195.22 226.00,195.45" fill="none" stroke="#E2CA48" stroke-width="1.15" stroke-linejoin="round" />
</g>
<rect x="126.5" y="74.5" width="93.30000000000001" height="32.8" rx="16.4" ry="16.4" fill="#BBAE45" stroke="#444" stroke-width="1"/>
<line x1="126.50" y1="90.60" x2="219.80" y2="90.60" stroke="#333" stroke-width="1.8" />
<line x1="141.90" y1="74.50" x2="141.90" y2="107.30" stroke="#333" stroke-width="1.8" />
<text x="145.30" y="85.20" font-size="10.5" text-anchor="start" fill="#222" stroke="#222" stroke-width="0.2" >a</text>
<text x="150.90" y="87.50" font-size="6" text-anchor="start" fill="#222" stroke="#222" stroke-width="0.2" >y</text>
<text x="171.70" y="86.40" font-size="10.5" text-anchor="start" fill="#222" stroke="#222" stroke-width="0.2" >a</text>
<text x="177.30" y="88.70" font-size="6" text-anchor="start" fill="#222" stroke="#222" stroke-width="0.2" >x</text>
<text x="192.80" y="104.00" font-size="10.5" text-anchor="start" fill="#222" stroke="#222" stroke-width="0.2" >Au</text>
<rect x="126.5" y="109.6" width="93.30000000000001" height="33.0" rx="16.5" ry="16.5" fill="#D9D9D9" stroke="#444" stroke-width="1"/>
<line x1="126.50" y1="126.00" x2="219.80" y2="126.00" stroke="#333" stroke-width="1.8" />
<line x1="141.90" y1="109.60" x2="141.90" y2="142.60" stroke="#333" stroke-width="1.8" />
<text x="146.60" y="121.50" font-size="10.5" text-anchor="start" fill="#222" stroke="#222" stroke-width="0.2" >a</text>
<text x="152.20" y="123.80" font-size="6" text-anchor="start" fill="#222" stroke="#222" stroke-width="0.2" >y</text>
<text x="172.60" y="122.70" font-size="10.5" text-anchor="start" fill="#222" stroke="#222" stroke-width="0.2" >a</text>
<text x="178.20" y="125.00" font-size="6" text-anchor="start" fill="#222" stroke="#222" stroke-width="0.2" >x</text>
<text x="192.20" y="138.00" font-size="10.5" text-anchor="start" fill="#222" stroke="#222" stroke-width="0.2" >Ag</text>
<path d="M121.6 89.1 l3.8 3.8 M121.6 92.9 l3.8 -3.8" stroke="#E02A34" stroke-width="0.95" fill="none"/>
<path d="M121.6 124.39999999999999 l3.8 3.8 M121.6 128.2 l3.8 -3.8" stroke="#E02A34" stroke-width="0.95" fill="none"/>
<rect x="38.5" y="70.5" width="187.7" height="151.0" fill="none" stroke="#555" stroke-width="1"/>
<line x1="35.70" y1="221.50" x2="38.50" y2="221.50" stroke="#555" stroke-width="1" />
<text x="32.90" y="224.60" font-size="10.5" text-anchor="end" fill="#222" stroke="#222" stroke-width="0.2" >0.0</text>
<line x1="37.10" y1="208.92" x2="38.50" y2="208.92" stroke="#555" stroke-width="1" />
<line x1="35.70" y1="196.34" x2="38.50" y2="196.34" stroke="#555" stroke-width="1" />
<text x="32.90" y="199.44" font-size="10.5" text-anchor="end" fill="#222" stroke="#222" stroke-width="0.2" >0.5</text>
<line x1="37.10" y1="183.75" x2="38.50" y2="183.75" stroke="#555" stroke-width="1" />
<line x1="35.70" y1="171.17" x2="38.50" y2="171.17" stroke="#555" stroke-width="1" />
<text x="32.90" y="174.27" font-size="10.5" text-anchor="end" fill="#222" stroke="#222" stroke-width="0.2" >1.0</text>
<line x1="37.10" y1="158.59" x2="38.50" y2="158.59" stroke="#555" stroke-width="1" />
<line x1="35.70" y1="146.00" x2="38.50" y2="146.00" stroke="#555" stroke-width="1" />
<text x="32.90" y="149.10" font-size="10.5" text-anchor="end" fill="#222" stroke="#222" stroke-width="0.2" >1.5</text>
<line x1="37.10" y1="133.42" x2="38.50" y2="133.42" stroke="#555" stroke-width="1" />
<line x1="35.70" y1="120.84" x2="38.50" y2="120.84" stroke="#555" stroke-width="1" />
<text x="32.90" y="123.94" font-size="10.5" text-anchor="end" fill="#222" stroke="#222" stroke-width="0.2" >2.0</text>
<line x1="37.10" y1="108.26" x2="38.50" y2="108.26" stroke="#555" stroke-width="1" />
<line x1="35.70" y1="95.68" x2="38.50" y2="95.68" stroke="#555" stroke-width="1" />
<text x="32.90" y="98.78" font-size="10.5" text-anchor="end" fill="#222" stroke="#222" stroke-width="0.2" >2.5</text>
<line x1="37.10" y1="83.09" x2="38.50" y2="83.09" stroke="#555" stroke-width="1" />
<line x1="35.70" y1="70.51" x2="38.50" y2="70.51" stroke="#555" stroke-width="1" />
<text x="32.90" y="73.61" font-size="10.5" text-anchor="end" fill="#222" stroke="#222" stroke-width="0.2" >3.0</text>
<line x1="226.20" y1="221.50" x2="229.00" y2="221.50" stroke="#555" stroke-width="1" />
<text x="230.10" y="224.60" font-size="10.5" text-anchor="start" fill="#222" stroke="#222" stroke-width="0.2" >0.0</text>
<line x1="226.20" y1="206.40" x2="227.60" y2="206.40" stroke="#555" stroke-width="1" />
<line x1="226.20" y1="191.30" x2="229.00" y2="191.30" stroke="#555" stroke-width="1" />
<text x="230.10" y="194.40" font-size="10.5" text-anchor="start" fill="#222" stroke="#222" stroke-width="0.2" >0.4</text>
<line x1="226.20" y1="176.20" x2="227.60" y2="176.20" stroke="#555" stroke-width="1" />
<line x1="226.20" y1="161.10" x2="229.00" y2="161.10" stroke="#555" stroke-width="1" />
<text x="230.10" y="164.20" font-size="10.5" text-anchor="start" fill="#222" stroke="#222" stroke-width="0.2" >0.8</text>
<line x1="226.20" y1="146.00" x2="227.60" y2="146.00" stroke="#555" stroke-width="1" />
<line x1="226.20" y1="130.90" x2="229.00" y2="130.90" stroke="#555" stroke-width="1" />
<text x="230.10" y="134.00" font-size="10.5" text-anchor="start" fill="#222" stroke="#222" stroke-width="0.2" >1.2</text>
<line x1="226.20" y1="115.80" x2="227.60" y2="115.80" stroke="#555" stroke-width="1" />
<line x1="226.20" y1="100.70" x2="229.00" y2="100.70" stroke="#555" stroke-width="1" />
<text x="230.10" y="103.80" font-size="10.5" text-anchor="start" fill="#222" stroke="#222" stroke-width="0.2" >1.6</text>
<line x1="226.20" y1="85.60" x2="227.60" y2="85.60" stroke="#555" stroke-width="1" />
<line x1="226.20" y1="70.50" x2="229.00" y2="70.50" stroke="#555" stroke-width="1" />
<text x="230.10" y="73.60" font-size="10.5" text-anchor="start" fill="#222" stroke="#222" stroke-width="0.2" >2.0</text>
<line x1="46.00" y1="221.50" x2="46.00" y2="224.30" stroke="#555" stroke-width="1" />
<text x="46.00" y="235.70" font-size="10.5" text-anchor="middle" fill="#222" stroke="#222" stroke-width="0.2" >700</text>
<line x1="64.00" y1="221.50" x2="64.00" y2="222.90" stroke="#555" stroke-width="1" />
<line x1="82.00" y1="221.50" x2="82.00" y2="224.30" stroke="#555" stroke-width="1" />
<text x="82.00" y="235.70" font-size="10.5" text-anchor="middle" fill="#222" stroke="#222" stroke-width="0.2" >750</text>
<line x1="100.00" y1="221.50" x2="100.00" y2="222.90" stroke="#555" stroke-width="1" />
<line x1="118.00" y1="221.50" x2="118.00" y2="224.30" stroke="#555" stroke-width="1" />
<text x="118.00" y="235.70" font-size="10.5" text-anchor="middle" fill="#222" stroke="#222" stroke-width="0.2" >800</text>
<line x1="136.00" y1="221.50" x2="136.00" y2="222.90" stroke="#555" stroke-width="1" />
<line x1="154.00" y1="221.50" x2="154.00" y2="224.30" stroke="#555" stroke-width="1" />
<text x="154.00" y="235.70" font-size="10.5" text-anchor="middle" fill="#222" stroke="#222" stroke-width="0.2" >850</text>
<line x1="172.00" y1="221.50" x2="172.00" y2="222.90" stroke="#555" stroke-width="1" />
<line x1="190.00" y1="221.50" x2="190.00" y2="224.30" stroke="#555" stroke-width="1" />
<text x="190.00" y="235.70" font-size="10.5" text-anchor="middle" fill="#222" stroke="#222" stroke-width="0.2" >900</text>
<line x1="208.00" y1="221.50" x2="208.00" y2="222.90" stroke="#555" stroke-width="1" />
<line x1="226.00" y1="221.50" x2="226.00" y2="224.30" stroke="#555" stroke-width="1" />
<text x="226.00" y="235.70" font-size="10.5" text-anchor="middle" fill="#222" stroke="#222" stroke-width="0.2" >950</text>
<text x="132.40" y="253.20" font-size="11.1" text-anchor="middle" fill="#222" stroke="#222" stroke-width="0.2" >wavelength (nm)</text>
<text x="13.50" y="145.60" font-size="11.0" text-anchor="middle" fill="#222" stroke="#222" stroke-width="0.2" transform="rotate(-90 13.5 145.6)">scattering cross-section (m<tspan font-size="7" dy="-4.6">2</tspan><tspan dy="4.6">)</tspan></text>
<text x="257.60" y="145.40" font-size="11.2" text-anchor="middle" fill="#222" stroke="#222" stroke-width="0.2" transform="rotate(-90 257.6 145.4)">incident spectra (a.u.)</text>
<text x="275.40" y="151.00" font-size="11.3" text-anchor="middle" fill="#222" stroke="#222" stroke-width="0.2" transform="rotate(-90 275.4 151)">electric field x component (rel.u.)</text>
<clipPath id="cp00"><rect x="291.4" y="42.5" width="106.8" height="86.80000000000001"/></clipPath>
<g clip-path="url(#cp00)">
<polyline points="315.86,85.84 316.33,86.65 316.80,87.49 317.27,88.06 317.73,88.09 318.20,87.42 318.67,86.08 319.14,84.35 319.61,82.73 320.08,81.79 320.55,82.02 321.02,83.62 321.49,86.35 321.96,89.56 322.43,92.29 322.90,93.53 323.37,92.61 323.84,89.41 324.31,84.57 324.77,79.37 325.24,75.42 325.71,74.17 326.18,76.41 326.65,81.91 327.12,89.37 327.59,96.70 328.06,101.61 328.53,102.30 329.00,98.15 329.47,89.97 329.94,79.94 330.41,70.95 330.88,65.81 331.35,66.31 331.82,72.63 332.28,83.14 332.75,94.90 333.22,104.45 333.69,108.90 334.16,106.84 334.63,98.76 335.10,87.01 335.57,75.00 336.04,66.23 336.51,63.21 336.98,66.69 337.45,75.50 337.92,86.94 338.39,97.62 338.86,104.54 339.32,105.90 339.79,101.66 340.26,93.38 340.73,83.68 341.20,75.42 341.67,70.78 342.14,70.75 342.61,74.90 343.08,81.63 343.55,88.80 344.02,94.35 344.49,96.95 344.96,96.24 345.43,92.86 345.90,88.11 346.36,83.50 346.83,80.27 347.30,79.09 347.77,79.97 348.24,82.31 348.71,85.22 349.18,87.81 349.65,89.43 350.12,89.82 350.59,89.12 351.06,87.72 351.53,86.17 352.00,84.90 352.47,84.20 352.94,84.14 353.40,84.59 353.87,85.31 354.34,86.03 354.81,86.57 355.28,86.82 355.75,86.79 356.22,86.56 356.69,86.24 357.16,85.94 357.63,85.75 358.10,85.67 358.57,85.70 359.04,85.81 359.51,85.93 359.98,86.03 360.44,86.10 360.91,86.12 361.38,86.10 361.85,86.06 362.32,86.02 362.79,85.98 363.26,85.97 363.73,85.96 364.20,85.97 364.67,85.98 365.14,86.00 365.61,86.01 366.08,86.01 366.55,86.01 367.02,86.01 367.48,86.00 367.95,86.00 368.42,86.00 368.89,86.00 369.36,86.00 369.83,86.00 370.30,86.00 370.77,86.00 371.24,86.00 371.71,86.00 372.18,86.00 372.65,86.00 373.12,86.00 373.59,86.00 374.06,86.00 374.52,86.00 374.99,86.00 375.46,86.00 375.93,86.00 376.40,86.00 376.87,86.00 377.34,86.00 377.81,86.00 378.28,86.00 378.75,86.00 379.22,86.00 379.69,86.00 380.16,86.00 380.63,86.00 381.10,86.00 381.56,86.00 382.03,86.00 382.50,86.00 382.97,86.00 383.44,86.00 383.91,86.00 384.38,86.00 384.85,86.00 385.32,86.00 385.79,86.00 386.26,86.00 386.73,86.00 387.20,86.00 387.67,86.00 388.14,86.00 388.60,86.00 389.07,86.00 389.54,86.00 390.01,86.00 390.48,86.00 390.95,86.00 391.42,86.00 391.89,86.00 392.36,86.00 392.83,86.00 393.30,86.00 393.77,86.00 394.24,86.00 394.71,86.00 395.18,86.00 395.64,86.00 396.11,86.00 396.58,86.00 397.05,86.00 397.52,86.00 397.99,86.00" fill="none" stroke="#A4DAF2" stroke-width="2.0" stroke-linejoin="round" />
<polyline points="291.45,85.95 291.92,85.95 292.39,85.96 292.86,85.96 293.33,86.00 293.80,86.00 294.27,86.00 294.74,86.00 295.21,86.00 295.68,86.00 296.15,86.00 296.61,86.00 297.08,86.00 297.55,86.00 298.02,86.00 298.49,86.00 298.96,86.00 299.43,86.00 299.90,86.00 300.37,86.00 300.84,86.00 301.31,86.00 301.78,86.00 302.25,86.00 302.72,86.00 303.19,86.00 303.65,86.00 304.12,86.00 304.59,86.00 305.06,86.00 305.53,86.00 306.00,85.99 306.47,85.99 306.94,85.99 307.41,85.99 307.88,85.98 308.35,85.98 308.82,85.97 309.29,85.96 309.76,85.94 310.23,85.93 310.69,85.91 311.16,85.88 311.63,85.85 312.10,85.81 312.57,85.77 313.04,85.71 313.51,85.64 313.98,85.56 314.45,85.47 314.92,85.35 315.39,85.22 315.86,85.07 316.33,84.90 316.80,84.70 317.27,84.47 317.73,84.22 318.20,83.93 318.67,83.62 319.14,83.27 319.61,82.90 320.08,82.49 320.55,82.04 321.02,81.57 321.49,81.06 321.96,80.53 322.43,79.97 322.90,79.38 323.37,78.76 323.84,78.12 324.31,77.46 324.77,76.76 325.24,76.05 325.71,75.31 326.18,74.55 326.65,73.76 327.12,72.95 327.59,72.12 328.06,71.27 328.53,70.40 329.00,69.53 329.47,68.66 329.94,67.79 330.41,66.95 330.88,66.13 331.35,65.36 331.82,64.65 332.28,64.01 332.75,63.45 333.22,62.99 333.69,62.64 334.16,62.40 334.63,62.28 335.10,62.29 335.57,62.41 336.04,62.66 336.51,63.03 336.98,62.99 337.45,62.64 337.92,62.40 338.39,62.28 338.86,62.29 339.32,62.41 339.79,62.66 340.26,63.03 340.73,63.51 341.20,64.09 341.67,64.76 342.14,65.50 342.61,66.31 343.08,67.16 343.55,68.04 344.02,68.94 344.49,69.84 344.96,70.74 345.43,71.61 345.90,72.46 346.36,73.26 346.83,74.02 347.30,74.74 347.77,75.40 348.24,76.02 348.71,76.59 349.18,77.12 349.65,77.60 350.12,78.05 350.59,78.46 351.06,78.85 351.53,79.20 352.00,79.54 352.47,79.85 352.94,80.15 353.40,80.43 353.87,80.70 354.34,80.95 354.81,81.19 355.28,81.42 355.75,81.64 356.22,81.85 356.69,82.05 357.16,82.24 357.63,82.42 358.10,82.59 358.57,82.76 359.04,82.92 359.51,83.06 359.98,83.21 360.44,83.34 360.91,83.47 361.38,83.59 361.85,83.71 362.32,83.82 362.79,83.93 363.26,84.03 363.73,84.12 364.20,84.21 364.67,84.30 365.14,84.38 365.61,84.46 366.08,84.53 366.55,84.60 367.02,84.67 367.48,84.73 367.95,84.80 368.42,84.85 368.89,84.91 369.36,84.96 369.83,85.01 370.30,85.06 370.77,85.11 371.24,85.15 371.71,85.19 372.18,85.23 372.65,85.27 373.12,85.30 373.59,85.33 374.06,85.37 374.52,85.40 374.99,85.43 375.46,85.45 375.93,85.48 376.40,85.51 376.87,85.53 377.34,85.55 377.81,85.57 378.28,85.59 378.75,85.61 379.22,85.63 379.69,85.65 380.16,85.67 380.63,85.68 381.10,85.70 381.56,85.71 382.03,85.73 382.50,85.74 382.97,85.75 383.44,85.76 383.91,85.78 384.38,85.79 384.85,85.80 385.32,85.81 385.79,85.82 386.26,85.82 386.73,85.83 387.20,85.84 387.67,85.85 388.14,85.86 388.60,85.86 389.07,85.87 389.54,85.88 390.01,85.88 390.48,85.89 390.95,85.89 391.42,85.90 391.89,85.90 392.36,85.91 392.83,85.91 393.30,85.92 393.77,85.92 394.24,85.92 394.71,85.93 395.18,85.93 395.64,85.93 396.11,85.94 396.58,85.94 397.05,85.94 397.52,85.95 397.99,85.95" fill="none" stroke="#86DA86" stroke-width="1.0" stroke-linejoin="round" stroke-dasharray="1.3 0.9"/>
<polyline points="315.86,85.61 316.33,85.48 316.80,85.41 317.27,85.45 317.73,85.64 318.20,85.99 318.67,86.48 319.14,87.05 319.61,87.61 320.08,88.02 320.55,88.17 321.02,87.92 321.49,87.23 321.96,86.10 322.43,84.66 322.90,83.08 323.37,81.65 323.84,80.65 324.31,80.35 324.77,80.93 325.24,82.45 325.71,84.81 326.18,87.78 326.65,90.97 327.12,93.91 327.59,96.12 328.06,97.17 328.53,96.73 329.00,94.66 329.47,91.06 329.94,86.25 330.41,80.80 330.88,75.44 331.35,71.00 331.82,68.28 332.28,67.91 332.75,70.23 333.22,75.15 333.69,82.14 334.16,90.23 334.63,98.19 335.10,104.65 335.57,108.42 336.04,108.72 336.51,105.35 336.98,98.78 337.45,90.09 337.92,80.81 338.39,72.58 338.86,66.86 339.32,64.64 339.79,66.20 340.26,71.10 340.73,78.30 341.20,86.32 341.67,93.62 342.14,98.90 342.61,101.33 343.08,100.70 343.55,97.41 344.02,92.33 344.49,86.62 344.96,81.44 345.43,77.71 345.90,75.99 346.36,76.38 346.83,78.57 347.30,81.93 347.77,85.69 348.24,89.11 348.71,91.58 349.18,92.75 349.65,92.57 350.12,91.22 350.59,89.07 351.06,86.60 351.53,84.27 352.00,82.47 352.47,81.45 352.94,81.29 353.40,81.93 353.87,83.17 354.34,84.76 354.81,86.39 355.28,87.80 355.75,88.78 356.22,89.24 356.69,89.14 357.16,88.56 357.63,87.63 358.10,86.54 358.57,85.48 359.04,84.59 359.51,84.00 359.98,83.78 360.44,83.92 360.91,84.37 361.38,85.03 361.85,85.77 362.32,86.48 362.79,87.04 363.26,87.40 363.73,87.51 364.20,87.37 364.67,87.04 365.14,86.58 365.61,86.07 366.08,85.60 366.55,85.24 367.02,85.03 367.48,84.98 367.95,85.10 368.42,85.34 368.89,85.66 369.36,86.01 369.83,86.32 370.30,86.55 370.77,86.67 371.24,86.68 371.71,86.59 372.18,86.41 372.65,86.19 373.12,85.96 373.59,85.76 374.06,85.61 374.52,85.54 374.99,85.54 375.46,85.62 375.93,85.74 376.40,85.90 376.87,86.05 377.34,86.19 377.81,86.28 378.28,86.32 378.75,86.31 379.22,86.25 379.69,86.16 380.16,86.05 380.63,85.95 381.10,85.86 381.56,85.80 382.03,85.78 382.50,85.80 382.97,85.84 383.44,85.90 383.91,85.98 384.38,86.05 384.85,86.10 385.32,86.14 385.79,86.15 386.26,86.13 386.73,86.10 387.20,86.06 387.67,86.01 388.14,85.96 388.60,85.93 389.07,85.90 389.54,85.90 390.01,85.91 390.48,85.94 390.95,85.97 391.42,86.00 391.89,86.03 392.36,86.05 392.83,86.07 393.30,86.07 393.77,86.06 394.24,86.04 394.71,86.02 395.18,86.00 395.64,85.98 396.11,85.96 396.58,85.95 397.05,85.96 397.52,85.96 397.99,85.97" fill="none" stroke="#2C3AB8" stroke-width="0.9" stroke-linejoin="round" />
<polyline points="291.45,86.00 291.92,86.00 292.39,86.00 292.86,86.00 293.33,86.00 293.80,86.00 294.27,86.00 294.74,86.00 295.21,86.00 295.68,86.00 296.15,86.00 296.61,86.00 297.08,86.00 297.55,86.00 298.02,86.00 298.49,86.00 298.96,86.00 299.43,86.00 299.90,86.00 300.37,86.00 300.84,86.00 301.31,86.00 301.78,86.00 302.25,86.00 302.72,86.00 303.19,86.00 303.65,86.00 304.12,86.00 304.59,86.00 305.06,86.00 305.53,86.00 306.00,86.00 306.47,86.00 306.94,86.00 307.41,86.00 307.88,86.00 308.35,85.99 308.82,85.99 309.29,85.99 309.76,85.99 310.23,85.99 310.69,86.00 311.16,86.01 311.63,86.04 312.10,86.06 312.57,86.09 313.04,86.11 313.51,86.10 313.98,86.06 314.45,85.98 314.92,85.85 315.39,85.69 315.86,85.52 316.33,85.40 316.80,85.38 317.27,85.51 317.73,85.83 318.20,86.34 318.67,86.99 319.14,87.67 319.61,88.21 320.08,88.45 320.55,88.20 321.02,87.36 321.49,85.95 321.96,84.12 322.43,82.18 322.90,80.53 323.37,79.62 323.84,79.81 324.31,81.31 324.77,84.04 325.24,87.66 325.71,91.56 326.18,94.96 326.65,97.10 327.12,97.41 327.59,95.62 328.06,91.90 328.53,86.83 329.00,81.33 329.47,76.43 329.94,73.10 330.41,72.00 330.88,73.36 331.35,76.89 331.82,81.90 332.28,87.41 332.75,92.37 333.22,95.91 333.69,97.48 334.16,96.96 334.63,94.64 335.10,91.15 335.57,87.25 336.04,83.70 336.51,81.09 336.98,79.73 337.45,79.67 337.92,80.68 338.39,82.38 338.86,84.33 339.32,86.13 339.79,87.48 340.26,88.25 340.73,88.44 341.20,88.17 341.67,87.60 342.14,86.91 342.61,86.27 343.08,85.78 343.55,85.48 344.02,85.37 344.49,85.41 344.96,85.54 345.43,85.71 345.90,85.86 346.36,85.99 346.83,86.07 347.30,86.11 347.77,86.11 348.24,86.09 348.71,86.06 349.18,86.03 349.65,86.01 350.12,86.00 350.59,85.99 351.06,85.99 351.53,85.99 352.00,85.99 352.47,86.00 352.94,86.00 353.40,86.00 353.87,86.00 354.34,86.00 354.81,86.00 355.28,86.00 355.75,86.00 356.22,86.00 356.69,86.00 357.16,86.00 357.63,86.00 358.10,86.00 358.57,86.00 359.04,86.00 359.51,86.00 359.98,86.00 360.44,86.00 360.91,86.00 361.38,86.00 361.85,86.00 362.32,86.00 362.79,86.00 363.26,86.00 363.73,86.00 364.20,86.00 364.67,86.00 365.14,86.00 365.61,86.00 366.08,86.00 366.55,86.00 367.02,86.00 367.48,86.00 367.95,86.00 368.42,86.00 368.89,86.00 369.36,86.00 369.83,86.00 370.30,86.00 370.77,86.00 371.24,86.00 371.71,86.00 372.18,86.00 372.65,86.00 373.12,86.00 373.59,86.00 374.06,86.00 374.52,86.00 374.99,86.00 375.46,86.00 375.93,86.00 376.40,86.00 376.87,86.00 377.34,86.00 377.81,86.00 378.28,86.00 378.75,86.00 379.22,86.00 379.69,86.00 380.16,86.00 380.63,86.00 381.10,86.00 381.56,86.00 382.03,86.00 382.50,86.00 382.97,86.00 383.44,86.00 383.91,86.00 384.38,86.00 384.85,86.00 385.32,86.00 385.79,86.00 386.26,86.00 386.73,86.00 387.20,86.00 387.67,86.00 388.14,86.00 388.60,86.00 389.07,86.00 389.54,86.00 390.01,86.00 390.48,86.00 390.95,86.00 391.42,86.00 391.89,86.00 392.36,86.00 392.83,86.00 393.30,86.00 393.77,86.00 394.24,86.00 394.71,86.00 395.18,86.00 395.64,86.00 396.11,86.00 396.58,86.00 397.05,86.00 397.52,86.00 397.99,86.00" fill="none" stroke="#3a3a3a" stroke-width="0.9" stroke-linejoin="round" />
<polyline points="315.86,85.57 316.33,85.48 316.80,85.37 317.27,85.24 317.73,85.09 318.20,84.92 318.67,84.72 319.14,84.50 319.61,84.25 320.08,83.98 320.55,83.67 321.02,83.33 321.49,82.96 321.96,82.55 322.43,82.12 322.90,81.66 323.37,81.16 323.84,80.64 324.31,80.09 324.77,79.51 325.24,78.90 325.71,78.28 326.18,77.62 326.65,76.95 327.12,76.25 327.59,75.52 328.06,74.77 328.53,74.00 329.00,73.21 329.47,72.39 329.94,71.56 330.41,70.71 330.88,69.85 331.35,69.00 331.82,68.15 332.28,67.32 332.75,66.52 333.22,65.77 333.69,65.07 334.16,64.44 334.63,63.90 335.10,63.45 335.57,63.10 336.04,62.86 336.51,62.75 336.98,62.75 337.45,62.88 337.92,63.12 338.39,63.48 338.86,63.95 339.32,64.52 339.79,65.17 340.26,65.90 340.73,66.69 341.20,67.53 341.67,68.39 342.14,69.28 342.61,70.16 343.08,71.04 343.55,71.89 344.02,72.72 344.49,73.51 344.96,74.26 345.43,74.96 345.90,75.61 346.36,76.22 346.83,76.78 347.30,77.29 347.77,77.77 348.24,78.21 348.71,78.61 349.18,78.99 349.65,79.34 350.12,79.66 350.59,79.97 351.06,80.26 351.53,80.54 352.00,80.80 352.47,81.05 352.94,81.29 353.40,81.51 353.87,81.73 354.34,81.93 354.81,82.13 355.28,82.31 355.75,82.49 356.22,82.66 356.69,82.82 357.16,82.98 357.63,83.12 358.10,83.26 358.57,83.39 359.04,83.52 359.51,83.64 359.98,83.75 360.44,83.86 360.91,83.97 361.38,84.06 361.85,84.16 362.32,84.25 362.79,84.33 363.26,84.41 363.73,84.49 364.20,84.56 364.67,84.63 365.14,84.70 365.61,84.76 366.08,84.82 366.55,84.88 367.02,84.93 367.48,84.98 367.95,85.03 368.42,85.08 368.89,85.12 369.36,85.16 369.83,85.21 370.30,85.24 370.77,85.28 371.24,85.31 371.71,85.35 372.18,85.38 372.65,85.41 373.12,85.44 373.59,85.46 374.06,85.49 374.52,85.52 374.99,85.54 375.46,85.56 375.93,85.58 376.40,85.60 376.87,85.62 377.34,85.64 377.81,85.66 378.28,85.67 378.75,85.69 379.22,85.70 379.69,85.72 380.16,85.73 380.63,85.75 381.10,85.76 381.56,85.77 382.03,85.78 382.50,85.79 382.97,85.80 383.44,85.81 383.91,85.82 384.38,85.83 384.85,85.84 385.32,85.84 385.79,85.85 386.26,85.86 386.73,85.87 387.20,85.87 387.67,85.88 388.14,85.88 388.60,85.89 389.07,85.90 389.54,85.90 390.01,85.91 390.48,85.91 390.95,85.91 391.42,85.92 391.89,85.92 392.36,85.93 392.83,85.93 393.30,85.93 393.77,85.94 394.24,85.94 394.71,85.94 395.18,85.94 395.64,85.95 396.11,85.95 396.58,85.95 397.05,85.95 397.52,85.96 397.99,85.96" fill="none" stroke="#36B846" stroke-width="1.1" stroke-linejoin="round" />
</g>
<rect x="291.4" y="42.5" width="106.8" height="86.80000000000001" fill="none" stroke="#A0A0A0" stroke-width="1"/>
<line x1="291.40" y1="42.50" x2="291.40" y2="129.30" stroke="#8FAFAF" stroke-width="1" />
<line x1="289.00" y1="120.40" x2="291.40" y2="120.40" stroke="#8FAFAF" stroke-width="1" />
<text x="288.40" y="123.30" font-size="10.5" text-anchor="end" fill="#222" stroke="#222" stroke-width="0.2" >-8</text>
<line x1="290.10" y1="111.80" x2="291.40" y2="111.80" stroke="#8FAFAF" stroke-width="1" />
<line x1="289.00" y1="103.20" x2="291.40" y2="103.20" stroke="#8FAFAF" stroke-width="1" />
<text x="288.40" y="106.10" font-size="10.5" text-anchor="end" fill="#222" stroke="#222" stroke-width="0.2" >-4</text>
<line x1="290.10" y1="94.60" x2="291.40" y2="94.60" stroke="#8FAFAF" stroke-width="1" />
<line x1="289.00" y1="86.00" x2="291.40" y2="86.00" stroke="#8FAFAF" stroke-width="1" />
<text x="288.40" y="88.90" font-size="10.5" text-anchor="end" fill="#222" stroke="#222" stroke-width="0.2" >0</text>
<line x1="290.10" y1="77.40" x2="291.40" y2="77.40" stroke="#8FAFAF" stroke-width="1" />
<line x1="289.00" y1="68.80" x2="291.40" y2="68.80" stroke="#8FAFAF" stroke-width="1" />
<text x="288.40" y="71.70" font-size="10.5" text-anchor="end" fill="#222" stroke="#222" stroke-width="0.2" >4</text>
<line x1="290.10" y1="60.20" x2="291.40" y2="60.20" stroke="#8FAFAF" stroke-width="1" />
<line x1="289.00" y1="51.60" x2="291.40" y2="51.60" stroke="#8FAFAF" stroke-width="1" />
<text x="288.40" y="54.50" font-size="10.5" text-anchor="end" fill="#222" stroke="#222" stroke-width="0.2" >8</text>
<line x1="291.40" y1="129.30" x2="291.40" y2="130.50" stroke="#A0A0A0" stroke-width="1" />
<line x1="318.10" y1="129.30" x2="318.10" y2="130.50" stroke="#A0A0A0" stroke-width="1" />
<line x1="344.80" y1="129.30" x2="344.80" y2="130.50" stroke="#A0A0A0" stroke-width="1" />
<line x1="371.50" y1="129.30" x2="371.50" y2="130.50" stroke="#A0A0A0" stroke-width="1" />
<line x1="398.20" y1="129.30" x2="398.20" y2="130.50" stroke="#A0A0A0" stroke-width="1" />
<text x="290.90" y="140.30" font-size="10.5" text-anchor="middle" fill="#222" stroke="#222" stroke-width="0.2" >0</text>
<text x="344.30" y="140.30" font-size="10.5" text-anchor="middle" fill="#222" stroke="#222" stroke-width="0.2" >20</text>
<text x="397.70" y="140.30" font-size="10.5" text-anchor="middle" fill="#222" stroke="#222" stroke-width="0.2" >40</text>
<text x="290.70" y="39.00" font-size="14.0" text-anchor="start" font-weight="bold" fill="#222" stroke="#222" stroke-width="0.2" >(b1)</text>
<text x="329.30" y="39.40" font-size="11.8" text-anchor="start" fill="#222" stroke="#222" stroke-width="0.2" >2.7 fs</text>
<text x="346.50" y="52.50" font-size="10" text-anchor="start" fill="#222" stroke="#222" stroke-width="0.2" >E</text>
<text x="353.50" y="54.60" font-size="6" text-anchor="start" fill="#222" stroke="#222" stroke-width="0.2" >x</text>
<text x="358.40" y="52.50" font-size="10" text-anchor="start" fill="#222" stroke="#222" stroke-width="0.2" >2.7 fs x4</text>
<line x1="362.20" y1="56.50" x2="380.20" y2="56.50" stroke="#222" stroke-width="2.1" />
<clipPath id="cp01"><rect x="422.5" y="42.5" width="106.8" height="86.80000000000001"/></clipPath>
<g clip-path="url(#cp01)">
<polyline points="445.58,85.68 446.05,85.87 446.52,86.18 446.99,86.58 447.46,86.99 447.93,87.32 448.40,87.45 448.87,87.27 449.33,86.72 449.80,85.80 450.27,84.63 450.74,83.40 451.21,82.41 451.68,81.96 452.15,82.32 452.62,83.61 453.09,85.77 453.56,88.52 454.03,91.35 454.50,93.62 454.97,94.69 455.44,94.06 455.91,91.55 456.38,87.38 456.84,82.19 457.31,76.99 457.78,72.93 458.25,71.09 458.72,72.17 459.19,76.33 459.66,83.03 460.13,91.10 460.60,98.92 461.07,104.78 461.54,107.23 462.01,105.45 462.48,99.51 462.95,90.37 463.42,79.76 463.88,69.84 464.35,62.72 464.82,60.01 465.29,62.45 465.76,69.68 466.23,80.36 466.70,92.39 467.17,103.34 467.64,111.03 468.11,113.90 468.58,111.40 469.05,104.07 469.52,93.41 469.99,81.53 470.46,70.74 470.92,63.06 471.39,59.82 471.86,61.44 472.33,67.42 472.80,76.43 473.27,86.67 473.74,96.23 474.21,103.43 474.68,107.17 475.15,107.03 475.62,103.32 476.09,96.98 476.56,89.29 477.03,81.69 477.50,75.45 477.96,71.48 478.43,70.24 478.90,71.67 479.37,75.27 479.84,80.24 480.31,85.64 480.78,90.55 481.25,94.25 481.72,96.27 482.19,96.47 482.66,95.01 483.13,92.31 483.60,88.92 484.07,85.44 484.54,82.42 485.00,80.28 485.47,79.25 485.94,79.37 486.41,80.49 486.88,82.33 487.35,84.53 487.82,86.72 488.29,88.55 488.76,89.80 489.23,90.33 489.70,90.14 490.17,89.35 490.64,88.13 491.11,86.72 491.58,85.35 492.04,84.24 492.51,83.51 492.98,83.25 493.45,83.43 493.92,83.98 494.39,84.78 494.86,85.67 495.33,86.52 495.80,87.20 496.27,87.62 496.74,87.74 497.21,87.59 497.68,87.22 498.15,86.70 498.62,86.13 499.08,85.60 499.55,85.19 500.02,84.95 500.49,84.90 500.96,85.02 501.43,85.27 501.90,85.61 502.37,85.97 502.84,86.30 503.31,86.54 503.78,86.68 504.25,86.69 504.72,86.60 505.19,86.43 505.66,86.21 506.12,85.99 506.59,85.79 507.06,85.64 507.53,85.57 508.00,85.57 508.47,85.63 508.94,85.74 509.41,85.89 509.88,86.03 510.35,86.15 510.82,86.24 511.29,86.28 511.76,86.27 512.23,86.23 512.70,86.15 513.16,86.06 513.63,85.97 514.10,85.90 514.57,85.84 515.04,85.82 515.51,85.83 515.98,85.86 516.45,85.91 516.92,85.97 517.39,86.03 517.86,86.07 518.33,86.10 518.80,86.11 519.27,86.11 519.74,86.08 520.20,86.05 520.67,86.01 521.14,85.98 521.61,85.95 522.08,85.93 522.55,85.93 523.02,85.93 523.49,85.95 523.96,85.97 524.43,85.99 524.90,86.02 525.37,86.03 525.84,86.04 526.31,86.05 526.78,86.04 527.24,86.03 527.71,86.02 528.18,86.00 528.65,85.99 529.12,85.98 529.59,85.97" fill="none" stroke="#A6B8EE" stroke-width="1.3" stroke-linejoin="round" />
<polyline points="445.08,85.68 445.55,85.87 446.02,86.18 446.49,86.58 446.96,86.99 447.43,87.32 447.90,87.45 448.37,87.27 448.83,86.72 449.30,85.80 449.77,84.63 450.24,83.40 450.71,82.41 451.18,81.96 451.65,82.32 452.12,83.61 452.59,85.77 453.06,88.52 453.53,91.35 454.00,93.62 454.47,94.69 454.94,94.06 455.41,91.55 455.88,87.38 456.34,82.19 456.81,76.99 457.28,72.93 457.75,71.09 458.22,72.17 458.69,76.33 459.16,83.03 459.63,91.10 460.10,98.92 460.57,104.78 461.04,107.23 461.51,105.45 461.98,99.51 462.45,90.37 462.92,79.76 463.38,69.84 463.85,62.72 464.32,60.01 464.79,62.45 465.26,69.68 465.73,80.36 466.20,92.39 466.67,103.34 467.14,111.03 467.61,113.90 468.08,111.40 468.55,104.07 469.02,93.41 469.49,81.53 469.96,70.74 470.42,63.06 470.89,59.82 471.36,61.44 471.83,67.42 472.30,76.43 472.77,86.67 473.24,96.23 473.71,103.43 474.18,107.17 474.65,107.03 475.12,103.32 475.59,96.98 476.06,89.29 476.53,81.69 477.00,75.45 477.46,71.48 477.93,70.24 478.40,71.67 478.87,75.27 479.34,80.24 479.81,85.64 480.28,90.55 480.75,94.25 481.22,96.27 481.69,96.47 482.16,95.01 482.63,92.31 483.10,88.92 483.57,85.44 484.04,82.42 484.50,80.28 484.97,79.25 485.44,79.37 485.91,80.49 486.38,82.33 486.85,84.53 487.32,86.72 487.79,88.55 488.26,89.80 488.73,90.33 489.20,90.14 489.67,89.35 490.14,88.13 490.61,86.72 491.08,85.35 491.54,84.24 492.01,83.51 492.48,83.25 492.95,83.43 493.42,83.98 493.89,84.78 494.36,85.67 494.83,86.52 495.30,87.20 495.77,87.62 496.24,87.74 496.71,87.59 497.18,87.22 497.65,86.70 498.12,86.13 498.58,85.60 499.05,85.19 499.52,84.95 499.99,84.90 500.46,85.02 500.93,85.27 501.40,85.61 501.87,85.97 502.34,86.30 502.81,86.54 503.28,86.68 503.75,86.69 504.22,86.60 504.69,86.43 505.16,86.21 505.62,85.99 506.09,85.79 506.56,85.64 507.03,85.57 507.50,85.57 507.97,85.63 508.44,85.74 508.91,85.89 509.38,86.03 509.85,86.15 510.32,86.24 510.79,86.28 511.26,86.27 511.73,86.23 512.20,86.15 512.66,86.06 513.13,85.97 513.60,85.90 514.07,85.84 514.54,85.82 515.01,85.83 515.48,85.86 515.95,85.91 516.42,85.97 516.89,86.03 517.36,86.07 517.83,86.10 518.30,86.11 518.77,86.11 519.24,86.08 519.70,86.05 520.17,86.01 520.64,85.98 521.11,85.95 521.58,85.93 522.05,85.93 522.52,85.93 522.99,85.95 523.46,85.97 523.93,85.99 524.40,86.02 524.87,86.03 525.34,86.04 525.81,86.05 526.28,86.04 526.74,86.03 527.21,86.02 527.68,86.00 528.15,85.99 528.62,85.98 529.09,85.97" fill="none" stroke="#2C3AB8" stroke-width="0.9" stroke-linejoin="round" />
<polyline points="445.08,85.45 445.55,85.33 446.02,85.20 446.49,85.05 446.96,84.88 447.43,84.67 447.90,84.44 448.37,84.18 448.83,83.89 449.30,83.56 449.77,83.19 450.24,82.79 450.71,82.34 451.18,81.85 451.65,81.32 452.12,80.74 452.59,80.12 453.06,79.46 453.53,78.76 454.00,78.02 454.47,77.24 454.94,76.42 455.41,75.58 455.88,74.71 456.34,73.82 456.81,72.90 457.28,71.98 457.75,71.05 458.22,70.11 458.69,69.18 459.16,68.26 459.63,67.35 460.10,66.46 460.57,65.59 461.04,64.75 461.51,63.94 461.98,63.17 462.45,62.44 462.92,61.76 463.38,61.12 463.85,60.53 464.32,60.00 464.79,59.53 465.26,59.13 465.73,58.78 466.20,58.51 466.67,58.30 467.14,58.17 467.61,58.10 468.08,58.11 468.55,58.20 469.02,58.35 469.49,58.58 469.96,58.87 470.42,59.23 470.89,59.66 471.36,60.14 471.83,60.68 472.30,61.26 472.77,61.90 473.24,62.57 473.71,63.27 474.18,64.00 474.65,64.75 475.12,65.52 475.59,66.30 476.06,67.08 476.53,67.86 477.00,68.64 477.46,69.41 477.93,70.17 478.40,70.92 478.87,71.64 479.34,72.35 479.81,73.03 480.28,73.69 480.75,74.33 481.22,74.94 481.69,75.53 482.16,76.09 482.63,76.63 483.10,77.14 483.57,77.62 484.04,78.08 484.50,78.52 484.97,78.94 485.44,79.33 485.91,79.70 486.38,80.06 486.85,80.39 487.32,80.71 487.79,81.00 488.26,81.28 488.73,81.55 489.20,81.80 489.67,82.04 490.14,82.26 490.61,82.47 491.08,82.67 491.54,82.86 492.01,83.04 492.48,83.20 492.95,83.36 493.42,83.51 493.89,83.65 494.36,83.78 494.83,83.91 495.30,84.03 495.77,84.14 496.24,84.24 496.71,84.34 497.18,84.44 497.65,84.52 498.12,84.61 498.58,84.69 499.05,84.76 499.52,84.83 499.99,84.90 500.46,84.96 500.93,85.02 501.40,85.07 501.87,85.13 502.34,85.17 502.81,85.22 503.28,85.27 503.75,85.31 504.22,85.35 504.69,85.38 505.16,85.42 505.62,85.45 506.09,85.48 506.56,85.51 507.03,85.54 507.50,85.56 507.97,85.59 508.44,85.61 508.91,85.63 509.38,85.65 509.85,85.67 510.32,85.69 510.79,85.71 511.26,85.73 511.73,85.74 512.20,85.76 512.66,85.77 513.13,85.78 513.60,85.80 514.07,85.81 514.54,85.82 515.01,85.83 515.48,85.84 515.95,85.85 516.42,85.86 516.89,85.86 517.36,85.87 517.83,85.88 518.30,85.89 518.77,85.89 519.24,85.90 519.70,85.90 520.17,85.91 520.64,85.91 521.11,85.92 521.58,85.92 522.05,85.93 522.52,85.93 522.99,85.94 523.46,85.94 523.93,85.94 524.40,85.95 524.87,85.95 525.34,85.95 525.81,85.95 526.28,85.96 526.74,85.96 527.21,85.96 527.68,85.96 528.15,85.97 528.62,85.97 529.09,85.97" fill="none" stroke="#449E56" stroke-width="1.0" stroke-linejoin="round" />
<polyline points="422.55,86.00 423.02,86.00 423.49,86.00 423.96,86.00 424.43,86.00 424.90,86.00 425.37,86.00 425.84,86.00 426.31,86.00 426.78,86.00 427.25,86.00 427.71,86.00 428.18,86.00 428.65,86.00 429.12,86.00 429.59,86.00 430.06,86.00 430.53,86.00 431.00,86.00 431.47,86.00 431.94,86.01 432.41,86.01 432.88,86.01 433.35,86.00 433.82,86.00 434.29,85.99 434.75,85.99 435.22,85.98 435.69,85.97 436.16,85.97 436.63,85.97 437.10,85.98 437.57,86.01 438.04,86.04 438.51,86.08 438.98,86.12 439.45,86.14 439.92,86.14 440.39,86.10 440.86,86.03 441.33,85.92 441.79,85.78 442.26,85.64 442.73,85.54 443.20,85.49 443.67,85.55 444.14,85.74 444.61,86.04 445.08,86.43 445.55,86.86 446.02,87.23 446.49,87.44 446.96,87.42 447.43,87.08 447.90,86.42 448.37,85.49 448.83,84.43 449.30,83.43 449.77,82.72 450.24,82.50 450.71,82.94 451.18,84.09 451.65,85.86 452.12,88.01 452.59,90.18 453.06,91.93 453.53,92.85 454.00,92.60 454.47,91.04 454.94,88.30 455.41,84.72 455.88,80.90 456.34,77.54 456.81,75.34 457.28,74.86 457.75,76.37 458.22,79.79 458.69,84.65 459.16,90.15 459.63,95.33 460.10,99.18 460.57,100.93 461.04,100.12 461.51,96.78 461.98,91.42 462.45,84.93 462.92,78.47 463.38,73.20 463.85,70.08 464.32,69.69 464.79,72.11 465.26,76.88 465.73,83.13 466.20,89.73 466.67,95.50 467.14,99.45 467.61,100.97 468.08,99.89 468.55,96.54 469.02,91.63 469.49,86.12 469.96,81.00 470.42,77.12 470.89,75.07 471.36,75.02 471.83,76.80 472.30,79.91 472.77,83.68 473.24,87.39 473.71,90.41 474.18,92.30 474.65,92.90 475.12,92.28 475.59,90.72 476.06,88.62 476.53,86.42 477.00,84.52 477.46,83.18 477.93,82.55 478.40,82.60 478.87,83.20 479.34,84.15 479.81,85.21 480.28,86.19 480.75,86.93 481.22,87.36 481.69,87.46 482.16,87.31 482.63,86.97 483.10,86.55 483.57,86.14 484.04,85.81 484.50,85.59 484.97,85.50 485.44,85.52 485.91,85.61 486.38,85.74 486.85,85.88 487.32,86.00 487.79,86.09 488.26,86.13 488.73,86.14 489.20,86.12 489.67,86.09 490.14,86.05 490.61,86.02" fill="none" stroke="#3a3a3a" stroke-width="0.9" stroke-linejoin="round" />
</g>
<rect x="422.5" y="42.5" width="106.8" height="86.80000000000001" fill="none" stroke="#A0A0A0" stroke-width="1"/>
<line x1="422.50" y1="42.50" x2="422.50" y2="129.30" stroke="#8FAFAF" stroke-width="1" />
<line x1="420.10" y1="120.40" x2="422.50" y2="120.40" stroke="#8FAFAF" stroke-width="1" />
<line x1="421.20" y1="111.80" x2="422.50" y2="111.80" stroke="#8FAFAF" stroke-width="1" />
<line x1="420.10" y1="103.20" x2="422.50" y2="103.20" stroke="#8FAFAF" stroke-width="1" />
<line x1="421.20" y1="94.60" x2="422.50" y2="94.60" stroke="#8FAFAF" stroke-width="1" />
<line x1="420.10" y1="86.00" x2="422.50" y2="86.00" stroke="#8FAFAF" stroke-width="1" />
<line x1="421.20" y1="77.40" x2="422.50" y2="77.40" stroke="#8FAFAF" stroke-width="1" />
<line x1="420.10" y1="68.80" x2="422.50" y2="68.80" stroke="#8FAFAF" stroke-width="1" />
<line x1="421.20" y1="60.20" x2="422.50" y2="60.20" stroke="#8FAFAF" stroke-width="1" />
<line x1="420.10" y1="51.60" x2="422.50" y2="51.60" stroke="#8FAFAF" stroke-width="1" />
<line x1="422.50" y1="129.30" x2="422.50" y2="130.50" stroke="#A0A0A0" stroke-width="1" />
<line x1="449.20" y1="129.30" x2="449.20" y2="130.50" stroke="#A0A0A0" stroke-width="1" />
<line x1="475.90" y1="129.30" x2="475.90" y2="130.50" stroke="#A0A0A0" stroke-width="1" />
<line x1="502.60" y1="129.30" x2="502.60" y2="130.50" stroke="#A0A0A0" stroke-width="1" />
<line x1="529.30" y1="129.30" x2="529.30" y2="130.50" stroke="#A0A0A0" stroke-width="1" />
<text x="422.00" y="140.30" font-size="10.5" text-anchor="middle" fill="#222" stroke="#222" stroke-width="0.2" >0</text>
<text x="475.40" y="140.30" font-size="10.5" text-anchor="middle" fill="#222" stroke="#222" stroke-width="0.2" >20</text>
<text x="528.80" y="140.30" font-size="10.5" text-anchor="middle" fill="#222" stroke="#222" stroke-width="0.2" >40</text>
<text x="421.80" y="39.00" font-size="14.0" text-anchor="start" font-weight="bold" fill="#222" stroke="#222" stroke-width="0.2" >(b2)</text>
<text x="462.70" y="39.40" font-size="11.8" text-anchor="start" fill="#222" stroke="#222" stroke-width="0.2" >4 fs</text>
<text x="486.20" y="52.50" font-size="10" text-anchor="start" fill="#222" stroke="#222" stroke-width="0.2" >E</text>
<text x="493.20" y="54.60" font-size="6" text-anchor="start" fill="#222" stroke="#222" stroke-width="0.2" >x</text>
<text x="498.10" y="52.50" font-size="10" text-anchor="start" fill="#222" stroke="#222" stroke-width="0.2" >4 fs x4</text>
<line x1="499.00" y1="56.50" x2="517.00" y2="56.50" stroke="#222" stroke-width="2.1" />
<clipPath id="cp02"><rect x="554.3" y="42.5" width="106.8" height="86.80000000000001"/></clipPath>
<g clip-path="url(#cp02)">
<polyline points="575.03,86.12 575.50,86.39 575.97,86.67 576.44,86.92 576.91,87.05 577.38,87.00 577.85,86.71 578.32,86.17 578.79,85.41 579.26,84.53 579.73,83.68 580.20,83.05 580.67,82.84 581.13,83.18 581.60,84.16 582.07,85.72 582.54,87.70 583.01,89.80 583.48,91.65 583.95,92.86 584.42,93.10 584.89,92.17 585.36,90.05 585.83,86.94 586.30,83.23 586.77,79.46 587.24,76.22 587.71,74.10 588.17,73.53 588.64,74.74 589.11,77.73 589.58,82.21 590.05,87.66 590.52,93.40 590.99,98.64 591.46,102.61 591.93,104.62 592.40,104.19 592.87,101.15 593.34,95.65 593.81,88.25 594.28,79.85 594.75,71.62 595.22,64.86 595.68,60.80 596.15,60.36 596.62,63.96 597.09,71.35 597.56,81.58 598.03,93.10 598.50,103.97 598.97,112.23 599.44,116.26 599.91,115.13 600.38,108.85 600.85,98.40 601.32,85.62 601.79,72.86 602.26,62.51 602.72,56.55 603.19,56.10 603.66,61.24 604.13,70.92 604.60,83.22 605.07,95.74 605.54,106.05 606.01,112.26 606.48,113.29 606.95,109.15 607.42,100.82 607.89,90.07 608.36,79.06 608.83,69.87 609.30,64.12 609.76,62.69 610.23,65.57 610.70,71.96 611.17,80.44 611.64,89.33 612.11,97.01 612.58,102.20 613.05,104.19 613.52,102.90 613.99,98.85 614.46,92.98 614.93,86.48 615.40,80.49 615.87,75.99 616.34,73.57 616.80,73.41 617.27,75.30 617.74,78.71 618.21,82.92 618.68,87.17 619.15,90.76 619.62,93.21 620.09,94.25 620.56,93.89 621.03,92.34 621.50,89.99 621.97,87.30 622.44,84.72 622.91,82.64 623.38,81.33 623.84,80.88 624.31,81.27 624.78,82.33 625.25,83.83 625.72,85.47 626.19,87.00 626.66,88.20 627.13,88.92 627.60,89.11 628.07,88.80 628.54,88.11 629.01,87.18 629.48,86.19 629.95,85.28 630.42,84.60 630.88,84.20 631.35,84.13 631.82,84.35 632.29,84.79 632.76,85.36 633.23,85.96 633.70,86.49 634.17,86.89 634.64,87.10 635.11,87.12 635.58,86.97 636.05,86.69 636.52,86.34 636.99,85.98 637.46,85.67 637.92,85.44 638.39,85.33 638.86,85.33 639.33,85.43 639.80,85.61 640.27,85.82 640.74,86.04 641.21,86.22 641.68,86.35 642.15,86.41 642.62,86.40 643.09,86.33 643.56,86.22 644.03,86.09 644.50,85.96 644.96,85.85 645.43,85.78 645.90,85.75 646.37,85.76 646.84,85.81 647.31,85.88 647.78,85.96 648.25,86.03 648.72,86.09 649.19,86.14 649.66,86.15 650.13,86.14 650.60,86.11 651.07,86.07 651.54,86.02 652.00,85.98 652.47,85.94 652.94,85.92 653.41,85.91 653.88,85.92 654.35,85.93 654.82,85.96 655.29,85.99 655.76,86.02 656.23,86.04 656.70,86.05 657.17,86.06 657.64,86.05 658.11,86.04 658.58,86.02 659.04,86.00 659.51,85.99 659.98,85.98 660.45,85.97 660.92,85.97 661.39,85.97" fill="none" stroke="#A6B8EE" stroke-width="1.3" stroke-linejoin="round" />
<polyline points="574.53,86.12 575.00,86.39 575.47,86.67 575.94,86.92 576.41,87.05 576.88,87.00 577.35,86.71 577.82,86.17 578.29,85.41 578.76,84.53 579.23,83.68 579.70,83.05 580.17,82.84 580.63,83.18 581.10,84.16 581.57,85.72 582.04,87.70 582.51,89.80 582.98,91.65 583.45,92.86 583.92,93.10 584.39,92.17 584.86,90.05 585.33,86.94 585.80,83.23 586.27,79.46 586.74,76.22 587.21,74.10 587.67,73.53 588.14,74.74 588.61,77.73 589.08,82.21 589.55,87.66 590.02,93.40 590.49,98.64 590.96,102.61 591.43,104.62 591.90,104.19 592.37,101.15 592.84,95.65 593.31,88.25 593.78,79.85 594.25,71.62 594.72,64.86 595.18,60.80 595.65,60.36 596.12,63.96 596.59,71.35 597.06,81.58 597.53,93.10 598.00,103.97 598.47,112.23 598.94,116.26 599.41,115.13 599.88,108.85 600.35,98.40 600.82,85.62 601.29,72.86 601.76,62.51 602.22,56.55 602.69,56.10 603.16,61.24 603.63,70.92 604.10,83.22 604.57,95.74 605.04,106.05 605.51,112.26 605.98,113.29 606.45,109.15 606.92,100.82 607.39,90.07 607.86,79.06 608.33,69.87 608.80,64.12 609.26,62.69 609.73,65.57 610.20,71.96 610.67,80.44 611.14,89.33 611.61,97.01 612.08,102.20 612.55,104.19 613.02,102.90 613.49,98.85 613.96,92.98 614.43,86.48 614.90,80.49 615.37,75.99 615.84,73.57 616.30,73.41 616.77,75.30 617.24,78.71 617.71,82.92 618.18,87.17 618.65,90.76 619.12,93.21 619.59,94.25 620.06,93.89 620.53,92.34 621.00,89.99 621.47,87.30 621.94,84.72 622.41,82.64 622.88,81.33 623.34,80.88 623.81,81.27 624.28,82.33 624.75,83.83 625.22,85.47 625.69,87.00 626.16,88.20 626.63,88.92 627.10,89.11 627.57,88.80 628.04,88.11 628.51,87.18 628.98,86.19 629.45,85.28 629.92,84.60 630.38,84.20 630.85,84.13 631.32,84.35 631.79,84.79 632.26,85.36 632.73,85.96 633.20,86.49 633.67,86.89 634.14,87.10 634.61,87.12 635.08,86.97 635.55,86.69 636.02,86.34 636.49,85.98 636.96,85.67 637.42,85.44 637.89,85.33 638.36,85.33 638.83,85.43 639.30,85.61 639.77,85.82 640.24,86.04 640.71,86.22 641.18,86.35 641.65,86.41 642.12,86.40 642.59,86.33 643.06,86.22 643.53,86.09 644.00,85.96 644.46,85.85 644.93,85.78 645.40,85.75 645.87,85.76 646.34,85.81 646.81,85.88 647.28,85.96 647.75,86.03 648.22,86.09 648.69,86.14 649.16,86.15 649.63,86.14 650.10,86.11 650.57,86.07 651.04,86.02 651.50,85.98 651.97,85.94 652.44,85.92 652.91,85.91 653.38,85.92 653.85,85.93 654.32,85.96 654.79,85.99 655.26,86.02 655.73,86.04 656.20,86.05 656.67,86.06 657.14,86.05 657.61,86.04 658.08,86.02 658.54,86.00 659.01,85.99 659.48,85.98 659.95,85.97 660.42,85.97 660.89,85.97" fill="none" stroke="#2C3AB8" stroke-width="0.9" stroke-linejoin="round" />
<polyline points="574.53,85.45 575.00,85.34 575.47,85.22 575.94,85.08 576.41,84.91 576.88,84.73 577.35,84.52 577.82,84.28 578.29,84.02 578.76,83.72 579.23,83.40 579.70,83.05 580.17,82.66 580.63,82.24 581.10,81.80 581.57,81.32 582.04,80.81 582.51,80.27 582.98,79.71 583.45,79.13 583.92,78.52 584.39,77.90 584.86,77.26 585.33,76.61 585.80,75.95 586.27,75.28 586.74,74.61 587.21,73.94 587.67,73.25 588.14,72.57 588.61,71.87 589.08,71.17 589.55,70.45 590.02,69.71 590.49,68.96 590.96,68.18 591.43,67.38 591.90,66.56 592.37,65.72 592.84,64.86 593.31,63.98 593.78,63.09 594.25,62.21 594.72,61.34 595.18,60.49 595.65,59.66 596.12,58.89 596.59,58.16 597.06,57.49 597.53,56.90 598.00,56.38 598.47,55.95 598.94,55.60 599.41,55.33 599.88,55.15 600.35,55.06 600.82,55.05 601.29,55.11 601.76,55.24 602.22,55.44 602.69,55.70 603.16,56.00 603.63,56.35 604.10,56.74 604.57,57.16 605.04,57.61 605.51,58.08 605.98,58.59 606.45,59.11 606.92,59.65 607.39,60.22 607.86,60.81 608.33,61.42 608.80,62.04 609.26,62.69 609.73,63.36 610.20,64.04 610.67,64.74 611.14,65.45 611.61,66.18 612.08,66.91 612.55,67.65 613.02,68.39 613.49,69.13 613.96,69.86 614.43,70.59 614.90,71.31 615.37,72.02 615.84,72.72 616.30,73.39 616.77,74.05 617.24,74.68 617.71,75.30 618.18,75.89 618.65,76.45 619.12,76.99 619.59,77.51 620.06,78.01 620.53,78.47 621.00,78.92 621.47,79.34 621.94,79.74 622.41,80.12 622.88,80.48 623.34,80.81 623.81,81.13 624.28,81.43 624.75,81.71 625.22,81.97 625.69,82.22 626.16,82.45 626.63,82.67 627.10,82.88 627.57,83.07 628.04,83.25 628.51,83.42 628.98,83.58 629.45,83.73 629.92,83.87 630.38,84.00 630.85,84.13 631.32,84.24 631.79,84.35 632.26,84.45 632.73,84.55 633.20,84.64 633.67,84.72 634.14,84.80 634.61,84.88 635.08,84.95 635.55,85.01 636.02,85.07 636.49,85.13 636.96,85.19 637.42,85.24 637.89,85.28 638.36,85.33 638.83,85.37 639.30,85.41 639.77,85.45 640.24,85.48 640.71,85.51 641.18,85.54 641.65,85.57 642.12,85.60 642.59,85.62 643.06,85.65 643.53,85.67 644.00,85.69 644.46,85.71 644.93,85.73 645.40,85.74 645.87,85.76 646.34,85.77 646.81,85.79 647.28,85.80 647.75,85.81 648.22,85.82 648.69,85.84 649.16,85.85 649.63,85.86 650.10,85.86 650.57,85.87 651.04,85.88 651.50,85.89 651.97,85.89 652.44,85.90 652.91,85.91 653.38,85.91 653.85,85.92 654.32,85.92 654.79,85.93 655.26,85.93 655.73,85.94 656.20,85.94 656.67,85.94 657.14,85.95 657.61,85.95 658.08,85.95 658.54,85.96 659.01,85.96 659.48,85.96 659.95,85.96 660.42,85.97 660.89,85.97" fill="none" stroke="#449E56" stroke-width="1.0" stroke-linejoin="round" />
<polyline points="554.35,86.00 554.82,86.00 555.29,86.00 555.76,86.00 556.23,86.00 556.70,86.00 557.17,86.00 557.64,86.00 558.11,86.00 558.58,86.00 559.05,86.00 559.51,86.00 559.98,86.00 560.45,85.99 560.92,85.99 561.39,85.98 561.86,85.98 562.33,85.98 562.80,85.99 563.27,86.00 563.74,86.02 564.21,86.04 564.68,86.06 565.15,86.07 565.62,86.07 566.09,86.05 566.55,86.02 567.02,85.97 567.49,85.91 567.96,85.85 568.43,85.80 568.90,85.78 569.37,85.81 569.84,85.88 570.31,86.00 570.78,86.16 571.25,86.34 571.72,86.49 572.19,86.59 572.66,86.58 573.13,86.46 573.59,86.20 574.06,85.83 574.53,85.40 575.00,84.98 575.47,84.67 575.94,84.55 576.41,84.70 576.88,85.15 577.35,85.86 577.82,86.76 578.29,87.71 578.76,88.51 579.23,88.98 579.70,88.96 580.17,88.36 580.63,87.19 581.10,85.57 581.57,83.76 582.04,82.06 582.51,80.84 582.98,80.41 583.45,80.96 583.92,82.55 584.39,85.01 584.86,87.99 585.33,90.99 585.80,93.44 586.27,94.82 586.74,94.74 587.21,93.04 587.67,89.89 588.14,85.71 588.61,81.19 589.08,77.14 589.55,74.34 590.02,73.41 590.49,74.66 590.96,78.01 591.43,82.99 591.90,88.79 592.37,94.41 592.84,98.82 593.31,101.18 593.78,100.98 594.25,98.16 594.72,93.14 595.18,86.78 595.65,80.16 596.12,74.45 596.59,70.67 597.06,69.51 597.53,71.17 598.00,75.35 598.47,81.30 598.94,87.96 599.41,94.16 599.88,98.84 600.35,101.21 600.82,100.94 601.29,98.17 601.76,93.47 602.22,87.75 602.69,82.02 603.16,77.28 603.63,74.28 604.10,73.42 604.57,74.72 605.04,77.79 605.51,81.99 605.98,86.50 606.45,90.54 606.92,93.46 607.39,94.87 607.86,94.67 608.33,93.07 608.80,90.48 609.26,87.44 609.73,84.52 610.20,82.20 610.67,80.79 611.14,80.42 611.61,81.01 612.08,82.34 612.55,84.08 613.02,85.88 613.49,87.43 613.96,88.51 614.43,89.01 614.90,88.93 615.37,88.39 615.84,87.55 616.30,86.60 616.77,85.72 617.24,85.05 617.71,84.65 618.18,84.56 618.65,84.72 619.12,85.05 619.59,85.48 620.06,85.90 620.53,86.26 621.00,86.49 621.47,86.59 621.94,86.58 622.41,86.47 622.88,86.31 623.34,86.13 623.81,85.98 624.28,85.86 624.75,85.80 625.22,85.78 625.69,85.81 626.16,85.86 626.63,85.92 627.10,85.98 627.57,86.02 628.04,86.06 628.51,86.07 628.98,86.07" fill="none" stroke="#3a3a3a" stroke-width="0.9" stroke-linejoin="round" />
</g>
<rect x="554.3" y="42.5" width="106.8" height="86.80000000000001" fill="none" stroke="#A0A0A0" stroke-width="1"/>
<line x1="554.30" y1="42.50" x2="554.30" y2="129.30" stroke="#8FAFAF" stroke-width="1" />
<line x1="551.90" y1="120.40" x2="554.30" y2="120.40" stroke="#8FAFAF" stroke-width="1" />
<line x1="553.00" y1="111.80" x2="554.30" y2="111.80" stroke="#8FAFAF" stroke-width="1" />
<line x1="551.90" y1="103.20" x2="554.30" y2="103.20" stroke="#8FAFAF" stroke-width="1" />
<line x1="553.00" y1="94.60" x2="554.30" y2="94.60" stroke="#8FAFAF" stroke-width="1" />
<line x1="551.90" y1="86.00" x2="554.30" y2="86.00" stroke="#8FAFAF" stroke-width="1" />
<line x1="553.00" y1="77.40" x2="554.30" y2="77.40" stroke="#8FAFAF" stroke-width="1" />
<line x1="551.90" y1="68.80" x2="554.30" y2="68.80" stroke="#8FAFAF" stroke-width="1" />
<line x1="553.00" y1="60.20" x2="554.30" y2="60.20" stroke="#8FAFAF" stroke-width="1" />
<line x1="551.90" y1="51.60" x2="554.30" y2="51.60" stroke="#8FAFAF" stroke-width="1" />
<line x1="554.30" y1="129.30" x2="554.30" y2="130.50" stroke="#A0A0A0" stroke-width="1" />
<line x1="581.00" y1="129.30" x2="581.00" y2="130.50" stroke="#A0A0A0" stroke-width="1" />
<line x1="607.70" y1="129.30" x2="607.70" y2="130.50" stroke="#A0A0A0" stroke-width="1" />
<line x1="634.40" y1="129.30" x2="634.40" y2="130.50" stroke="#A0A0A0" stroke-width="1" />
<line x1="661.10" y1="129.30" x2="661.10" y2="130.50" stroke="#A0A0A0" stroke-width="1" />
<text x="553.80" y="140.30" font-size="10.5" text-anchor="middle" fill="#222" stroke="#222" stroke-width="0.2" >0</text>
<text x="607.20" y="140.30" font-size="10.5" text-anchor="middle" fill="#222" stroke="#222" stroke-width="0.2" >20</text>
<text x="660.60" y="140.30" font-size="10.5" text-anchor="middle" fill="#222" stroke="#222" stroke-width="0.2" >40</text>
<text x="553.60" y="39.00" font-size="14.0" text-anchor="start" font-weight="bold" fill="#222" stroke="#222" stroke-width="0.2" >(b3)</text>
<text x="595.30" y="39.40" font-size="11.8" text-anchor="start" fill="#222" stroke="#222" stroke-width="0.2" >5 fs</text>
<text x="618.30" y="52.50" font-size="10" text-anchor="start" fill="#222" stroke="#222" stroke-width="0.2" >E</text>
<text x="625.30" y="54.60" font-size="6" text-anchor="start" fill="#222" stroke="#222" stroke-width="0.2" >x</text>
<text x="630.20" y="52.50" font-size="10" text-anchor="start" fill="#222" stroke="#222" stroke-width="0.2" >5 fs x4</text>
<line x1="630.40" y1="56.50" x2="648.40" y2="56.50" stroke="#222" stroke-width="2.1" />
<clipPath id="cp10"><rect x="291.4" y="163.0" width="106.8" height="86.69999999999999"/></clipPath>
<g clip-path="url(#cp10)">
<polyline points="319.14,208.71 319.61,207.94 320.08,206.39 320.55,204.40 321.02,202.53 321.49,201.45 321.96,201.72 322.43,203.55 322.90,206.70 323.37,210.40 323.84,213.55 324.31,214.98 324.77,213.92 325.24,210.23 325.71,204.65 326.18,198.66 326.65,194.10 327.12,192.66 327.59,195.24 328.06,201.58 328.53,210.19 329.00,218.64 329.47,224.29 329.94,225.09 330.41,220.30 330.88,210.88 331.35,199.32 331.82,188.96 332.28,183.03 332.75,183.61 333.22,190.88 333.69,203.00 334.16,216.56 334.63,227.57 335.10,232.70 335.57,230.32 336.04,221.01 336.51,207.46 336.98,193.62 337.45,183.51 337.92,180.02 338.39,184.04 338.86,194.20 339.32,207.38 339.79,219.70 340.26,227.67 340.73,229.24 341.20,224.36 341.67,214.81 342.14,203.63 342.61,194.10 343.08,188.76 343.55,188.73 344.02,193.50 344.49,201.27 344.96,209.53 345.43,215.93 345.90,218.92 346.36,218.11 346.83,214.21 347.30,208.73 347.77,203.41 348.24,199.69 348.71,198.34 349.18,199.34 349.65,202.04 350.12,205.40 350.59,208.39 351.06,210.26 351.53,210.71 352.00,209.89 352.47,208.29 352.94,206.49 353.40,205.03 353.87,204.23 354.34,204.16 354.81,204.68 355.28,205.50 355.75,206.34 356.22,206.96 356.69,207.25 357.16,207.21 357.63,206.94 358.10,206.58 358.57,206.24 359.04,206.01 359.51,205.92 359.98,205.96 360.44,206.08 360.91,206.22 361.38,206.34 361.85,206.41 362.32,206.43 362.79,206.41 363.26,206.37 363.73,206.32 364.20,206.28 364.67,206.26 365.14,206.26 365.61,206.27 366.08,206.28 366.55,206.30 367.02,206.31 367.48,206.31 367.95,206.31 368.42,206.31 368.89,206.30 369.36,206.30 369.83,206.30 370.30,206.30 370.77,206.30 371.24,206.30 371.71,206.30 372.18,206.30 372.65,206.30 373.12,206.30 373.59,206.30 374.06,206.30 374.52,206.30 374.99,206.30 375.46,206.30 375.93,206.30 376.40,206.30 376.87,206.30 377.34,206.30 377.81,206.30 378.28,206.30 378.75,206.30 379.22,206.30 379.69,206.30 380.16,206.30 380.63,206.30 381.10,206.30 381.56,206.30 382.03,206.30 382.50,206.30 382.97,206.30 383.44,206.30 383.91,206.30 384.38,206.30 384.85,206.30 385.32,206.30 385.79,206.30 386.26,206.30 386.73,206.30 387.20,206.30 387.67,206.30 388.14,206.30 388.60,206.30 389.07,206.30 389.54,206.30 390.01,206.30 390.48,206.30 390.95,206.30 391.42,206.30 391.89,206.30 392.36,206.30 392.83,206.30 393.30,206.30 393.77,206.30 394.24,206.30 394.71,206.30 395.18,206.30 395.64,206.30 396.11,206.30 396.58,206.30 397.05,206.30 397.52,206.30 397.99,206.30" fill="none" stroke="#A4DAF2" stroke-width="2.0" stroke-linejoin="round" />
<polyline points="291.45,206.18 291.92,206.19 292.39,206.19 292.86,206.20 293.33,206.30 293.80,206.30 294.27,206.30 294.74,206.30 295.21,206.30 295.68,206.30 296.15,206.30 296.61,206.30 297.08,206.30 297.55,206.30 298.02,206.30 298.49,206.30 298.96,206.30 299.43,206.30 299.90,206.30 300.37,206.30 300.84,206.30 301.31,206.30 301.78,206.30 302.25,206.30 302.72,206.30 303.19,206.30 303.65,206.30 304.12,206.30 304.59,206.30 305.06,206.30 305.53,206.30 306.00,206.30 306.47,206.30 306.94,206.30 307.41,206.30 307.88,206.30 308.35,206.30 308.82,206.30 309.29,206.30 309.76,206.30 310.23,206.30 310.69,206.29 311.16,206.29 311.63,206.29 312.10,206.28 312.57,206.27 313.04,206.26 313.51,206.24 313.98,206.22 314.45,206.19 314.92,206.15 315.39,206.10 315.86,206.04 316.33,205.96 316.80,205.86 317.27,205.74 317.73,205.59 318.20,205.42 318.67,205.21 319.14,204.96 319.61,204.68 320.08,204.35 320.55,203.99 321.02,203.59 321.49,203.15 321.96,202.68 322.43,202.18 322.90,201.65 323.37,201.11 323.84,200.54 324.31,199.97 324.77,199.38 325.24,198.78 325.71,198.16 326.18,197.50 326.65,196.80 327.12,196.03 327.59,195.18 328.06,194.24 328.53,193.19 329.00,192.04 329.47,190.79 329.94,189.46 330.41,188.07 330.88,186.65 331.35,185.22 331.82,183.82 332.28,182.47 332.75,181.22 333.22,180.08 333.69,179.08 334.16,178.24 334.63,177.56 335.10,177.06 335.57,176.73 336.04,176.58 336.51,176.60 336.98,176.77 337.45,177.08 337.92,177.52 338.39,177.56 338.86,177.06 339.32,176.73 339.79,176.58 340.26,176.60 340.73,176.77 341.20,177.08 341.67,177.52 342.14,178.07 342.61,178.72 343.08,179.44 343.55,180.23 344.02,181.06 344.49,181.92 344.96,182.80 345.43,183.69 345.90,184.58 346.36,185.46 346.83,186.33 347.30,187.18 347.77,188.00 348.24,188.81 348.71,189.58 349.18,190.32 349.65,191.04 350.12,191.73 350.59,192.39 351.06,193.02 351.53,193.62 352.00,194.20 352.47,194.75 352.94,195.28 353.40,195.78 353.87,196.26 354.34,196.72 354.81,197.16 355.28,197.58 355.75,197.98 356.22,198.36 356.69,198.72 357.16,199.07 357.63,199.40 358.10,199.71 358.57,200.01 359.04,200.30 359.51,200.58 359.98,200.84 360.44,201.09 360.91,201.33 361.38,201.55 361.85,201.77 362.32,201.98 362.79,202.17 363.26,202.36 363.73,202.54 364.20,202.71 364.67,202.88 365.14,203.04 365.61,203.18 366.08,203.33 366.55,203.46 367.02,203.59 367.48,203.72 367.95,203.83 368.42,203.95 368.89,204.06 369.36,204.16 369.83,204.26 370.30,204.35 370.77,204.44 371.24,204.52 371.71,204.60 372.18,204.68 372.65,204.76 373.12,204.83 373.59,204.89 374.06,204.96 374.52,205.02 374.99,205.08 375.46,205.13 375.93,205.19 376.40,205.24 376.87,205.29 377.34,205.33 377.81,205.38 378.28,205.42 378.75,205.46 379.22,205.50 379.69,205.53 380.16,205.57 380.63,205.60 381.10,205.63 381.56,205.67 382.03,205.69 382.50,205.72 382.97,205.75 383.44,205.77 383.91,205.80 384.38,205.82 384.85,205.84 385.32,205.86 385.79,205.88 386.26,205.90 386.73,205.92 387.20,205.94 387.67,205.95 388.14,205.97 388.60,205.99 389.07,206.00 389.54,206.01 390.01,206.03 390.48,206.04 390.95,206.05 391.42,206.06 391.89,206.07 392.36,206.08 392.83,206.09 393.30,206.10 393.77,206.11 394.24,206.12 394.71,206.13 395.18,206.14 395.64,206.14 396.11,206.15 396.58,206.16 397.05,206.16 397.52,206.17 397.99,206.18" fill="none" stroke="#86DA86" stroke-width="1.0" stroke-linejoin="round" stroke-dasharray="1.3 0.9"/>
<polyline points="319.14,206.84 319.61,206.97 320.08,206.99 320.55,206.84 321.02,206.48 321.49,205.90 321.96,205.16 322.43,204.37 322.90,203.68 323.37,203.28 323.84,203.34 324.31,203.96 324.77,205.16 325.24,206.85 325.71,208.81 326.18,210.79 326.65,212.49 327.12,213.64 327.59,214.04 328.06,213.58 328.53,212.20 329.00,209.96 329.47,206.96 329.94,203.35 330.41,199.39 330.88,195.47 331.35,192.07 331.82,189.80 332.28,189.27 332.75,190.99 333.22,195.18 333.69,201.68 334.16,209.82 334.63,218.48 335.10,226.28 335.57,231.75 336.04,233.74 336.51,231.58 336.98,225.38 337.45,215.98 337.92,204.85 338.39,193.85 338.86,184.83 339.32,179.30 339.79,178.13 340.26,181.42 340.73,188.48 341.20,198.01 341.67,208.33 342.14,217.73 342.61,224.74 343.08,228.39 343.55,228.32 344.02,224.83 344.49,218.71 344.96,211.15 345.43,203.46 345.90,196.85 346.36,192.27 346.83,190.27 347.30,190.93 347.77,193.92 348.24,198.57 348.71,204.01 349.18,209.32 349.65,213.69 350.12,216.53 350.59,217.53 351.06,216.70 351.53,214.33 352.00,210.92 352.47,207.11 352.94,203.51 353.40,200.66 353.87,198.94 354.34,198.52 354.81,199.34 355.28,201.17 355.75,203.63 356.22,206.28 356.69,208.70 357.16,210.53 357.63,211.54 358.10,211.65 358.57,210.92 359.04,209.54 359.51,207.78 359.98,205.95 360.44,204.33 360.91,203.17 361.38,202.59 361.85,202.64 362.32,203.26 362.79,204.29 363.26,205.54 363.73,206.80 364.20,207.86 364.67,208.59 365.14,208.90 365.61,208.78 366.08,208.28 366.55,207.53 367.02,206.64 367.48,205.79 367.95,205.09 368.42,204.64 368.89,204.49 369.36,204.63 369.83,205.02 370.30,205.57 370.77,206.19 371.24,206.77 371.71,207.22 372.18,207.49 372.65,207.55 373.12,207.42 373.59,207.12 374.06,206.72 374.52,206.29 374.99,205.90 375.46,205.61 375.93,205.45 376.40,205.44 376.87,205.56 377.34,205.78 377.81,206.07 378.28,206.37 378.75,206.62 379.22,206.81 379.69,206.90 380.16,206.89 380.63,206.79 381.10,206.62 381.56,206.42 382.03,206.21 382.50,206.04 382.97,205.93 383.44,205.88 383.91,205.90 384.38,205.98 384.85,206.11 385.32,206.25 385.79,206.39 386.26,206.50 386.73,206.57 387.20,206.59 387.67,206.57 388.14,206.50 388.60,206.41 389.07,206.32 389.54,206.22 390.01,206.15 390.48,206.11 390.95,206.10 391.42,206.12 391.89,206.17 392.36,206.23 392.83,206.30 393.30,206.37 393.77,206.41 394.24,206.44 394.71,206.44 395.18,206.42 395.64,206.38 396.11,206.34 396.58,206.29 397.05,206.25 397.52,206.22 397.99,206.20" fill="none" stroke="#2C3AB8" stroke-width="0.9" stroke-linejoin="round" />
<polyline points="291.45,206.30 291.92,206.30 292.39,206.30 292.86,206.30 293.33,206.30 293.80,206.30 294.27,206.30 294.74,206.30 295.21,206.30 295.68,206.30 296.15,206.30 296.61,206.30 297.08,206.30 297.55,206.30 298.02,206.30 298.49,206.30 298.96,206.30 299.43,206.30 299.90,206.30 300.37,206.30 300.84,206.30 301.31,206.30 301.78,206.30 302.25,206.30 302.72,206.30 303.19,206.30 303.65,206.30 304.12,206.30 304.59,206.30 305.06,206.30 305.53,206.30 306.00,206.30 306.47,206.30 306.94,206.30 307.41,206.30 307.88,206.30 308.35,206.29 308.82,206.29 309.29,206.29 309.76,206.29 310.23,206.29 310.69,206.30 311.16,206.31 311.63,206.34 312.10,206.36 312.57,206.39 313.04,206.41 313.51,206.40 313.98,206.36 314.45,206.28 314.92,206.15 315.39,205.99 315.86,205.82 316.33,205.70 316.80,205.68 317.27,205.81 317.73,206.13 318.20,206.64 318.67,207.29 319.14,207.97 319.61,208.51 320.08,208.75 320.55,208.50 321.02,207.66 321.49,206.25 321.96,204.42 322.43,202.48 322.90,200.83 323.37,199.92 323.84,200.11 324.31,201.61 324.77,204.34 325.24,207.96 325.71,211.86 326.18,215.26 326.65,217.40 327.12,217.71 327.59,215.92 328.06,212.20 328.53,207.13 329.00,201.63 329.47,196.73 329.94,193.40 330.41,192.30 330.88,193.66 331.35,197.19 331.82,202.20 332.28,207.71 332.75,212.67 333.22,216.21 333.69,217.78 334.16,217.26 334.63,214.94 335.10,211.45 335.57,207.55 336.04,204.00 336.51,201.39 336.98,200.03 337.45,199.97 337.92,200.98 338.39,202.68 338.86,204.63 339.32,206.43 339.79,207.78 340.26,208.55 340.73,208.74 341.20,208.47 341.67,207.90 342.14,207.21 342.61,206.57 343.08,206.08 343.55,205.78 344.02,205.67 344.49,205.71 344.96,205.84 345.43,206.01 345.90,206.16 346.36,206.29 346.83,206.37 347.30,206.41 347.77,206.41 348.24,206.39 348.71,206.36 349.18,206.33 349.65,206.31 350.12,206.30 350.59,206.29 351.06,206.29 351.53,206.29 352.00,206.29 352.47,206.30 352.94,206.30 353.40,206.30 353.87,206.30 354.34,206.30 354.81,206.30 355.28,206.30 355.75,206.30 356.22,206.30 356.69,206.30 357.16,206.30 357.63,206.30 358.10,206.30 358.57,206.30 359.04,206.30 359.51,206.30 359.98,206.30 360.44,206.30 360.91,206.30 361.38,206.30 361.85,206.30 362.32,206.30 362.79,206.30 363.26,206.30 363.73,206.30 364.20,206.30 364.67,206.30 365.14,206.30 365.61,206.30 366.08,206.30 366.55,206.30 367.02,206.30 367.48,206.30 367.95,206.30 368.42,206.30 368.89,206.30 369.36,206.30 369.83,206.30 370.30,206.30 370.77,206.30 371.24,206.30 371.71,206.30 372.18,206.30 372.65,206.30 373.12,206.30 373.59,206.30 374.06,206.30 374.52,206.30 374.99,206.30 375.46,206.30 375.93,206.30 376.40,206.30 376.87,206.30 377.34,206.30 377.81,206.30 378.28,206.30 378.75,206.30 379.22,206.30 379.69,206.30 380.16,206.30 380.63,206.30 381.10,206.30 381.56,206.30 382.03,206.30 382.50,206.30 382.97,206.30 383.44,206.30 383.91,206.30 384.38,206.30 384.85,206.30 385.32,206.30 385.79,206.30 386.26,206.30 386.73,206.30 387.20,206.30 387.67,206.30 388.14,206.30 388.60,206.30 389.07,206.30 389.54,206.30 390.01,206.30 390.48,206.30 390.95,206.30 391.42,206.30 391.89,206.30 392.36,206.30 392.83,206.30 393.30,206.30 393.77,206.30 394.24,206.30 394.71,206.30 395.18,206.30 395.64,206.30 396.11,206.30 396.58,206.30 397.05,206.30 397.52,206.30 397.99,206.30" fill="none" stroke="#3a3a3a" stroke-width="0.9" stroke-linejoin="round" />
<polyline points="319.14,205.75 319.61,205.61 320.08,205.43 320.55,205.23 321.02,204.99 321.49,204.71 321.96,204.39 322.43,204.04 322.90,203.64 323.37,203.21 323.84,202.75 324.31,202.26 324.77,201.74 325.24,201.21 325.71,200.66 326.18,200.09 326.65,199.52 327.12,198.93 327.59,198.32 328.06,197.67 328.53,196.98 329.00,196.23 329.47,195.40 329.94,194.47 330.41,193.45 330.88,192.32 331.35,191.10 331.82,189.79 332.28,188.43 332.75,187.03 333.22,185.63 333.69,184.26 334.16,182.94 334.63,181.71 335.10,180.60 335.57,179.62 336.04,178.79 336.51,178.12 336.98,177.63 337.45,177.31 337.92,177.16 338.39,177.18 338.86,177.35 339.32,177.65 339.79,178.09 340.26,178.63 340.73,179.26 341.20,179.97 341.67,180.74 342.14,181.55 342.61,182.40 343.08,183.26 343.55,184.13 344.02,185.01 344.49,185.87 344.96,186.72 345.43,187.55 345.90,188.36 346.36,189.15 346.83,189.91 347.30,190.64 347.77,191.34 348.24,192.02 348.71,192.66 349.18,193.28 349.65,193.87 350.12,194.44 350.59,194.98 351.06,195.50 351.53,195.99 352.00,196.46 352.47,196.91 352.94,197.34 353.40,197.75 353.87,198.14 354.34,198.51 354.81,198.87 355.28,199.21 355.75,199.53 356.22,199.84 356.69,200.14 357.16,200.42 357.63,200.69 358.10,200.94 358.57,201.19 359.04,201.42 359.51,201.65 359.98,201.86 360.44,202.06 360.91,202.26 361.38,202.44 361.85,202.62 362.32,202.79 362.79,202.95 363.26,203.10 363.73,203.25 364.20,203.39 364.67,203.52 365.14,203.65 365.61,203.77 366.08,203.88 366.55,203.99 367.02,204.10 367.48,204.20 367.95,204.30 368.42,204.39 368.89,204.47 369.36,204.56 369.83,204.64 370.30,204.71 370.77,204.79 371.24,204.86 371.71,204.92 372.18,204.98 372.65,205.04 373.12,205.10 373.59,205.16 374.06,205.21 374.52,205.26 374.99,205.31 375.46,205.35 375.93,205.40 376.40,205.44 376.87,205.48 377.34,205.51 377.81,205.55 378.28,205.58 378.75,205.62 379.22,205.65 379.69,205.68 380.16,205.71 380.63,205.73 381.10,205.76 381.56,205.78 382.03,205.81 382.50,205.83 382.97,205.85 383.44,205.87 383.91,205.89 384.38,205.91 384.85,205.93 385.32,205.94 385.79,205.96 386.26,205.98 386.73,205.99 387.20,206.01 387.67,206.02 388.14,206.03 388.60,206.04 389.07,206.06 389.54,206.07 390.01,206.08 390.48,206.09 390.95,206.10 391.42,206.11 391.89,206.12 392.36,206.12 392.83,206.13 393.30,206.14 393.77,206.15 394.24,206.15 394.71,206.16 395.18,206.17 395.64,206.17 396.11,206.18 396.58,206.18 397.05,206.19 397.52,206.19 397.99,206.20" fill="none" stroke="#36B846" stroke-width="1.1" stroke-linejoin="round" />
</g>
<rect x="291.4" y="163.0" width="106.8" height="86.69999999999999" fill="none" stroke="#A0A0A0" stroke-width="1"/>
<line x1="291.40" y1="163.00" x2="291.40" y2="249.70" stroke="#8FAFAF" stroke-width="1" />
<line x1="289.00" y1="240.70" x2="291.40" y2="240.70" stroke="#8FAFAF" stroke-width="1" />
<text x="288.40" y="243.60" font-size="10.5" text-anchor="end" fill="#222" stroke="#222" stroke-width="0.2" >-8</text>
<line x1="290.10" y1="232.10" x2="291.40" y2="232.10" stroke="#8FAFAF" stroke-width="1" />
<line x1="289.00" y1="223.50" x2="291.40" y2="223.50" stroke="#8FAFAF" stroke-width="1" />
<text x="288.40" y="226.40" font-size="10.5" text-anchor="end" fill="#222" stroke="#222" stroke-width="0.2" >-4</text>
<line x1="290.10" y1="214.90" x2="291.40" y2="214.90" stroke="#8FAFAF" stroke-width="1" />
<line x1="289.00" y1="206.30" x2="291.40" y2="206.30" stroke="#8FAFAF" stroke-width="1" />
<text x="288.40" y="209.20" font-size="10.5" text-anchor="end" fill="#222" stroke="#222" stroke-width="0.2" >0</text>
<line x1="290.10" y1="197.70" x2="291.40" y2="197.70" stroke="#8FAFAF" stroke-width="1" />
<line x1="289.00" y1="189.10" x2="291.40" y2="189.10" stroke="#8FAFAF" stroke-width="1" />
<text x="288.40" y="192.00" font-size="10.5" text-anchor="end" fill="#222" stroke="#222" stroke-width="0.2" >4</text>
<line x1="290.10" y1="180.50" x2="291.40" y2="180.50" stroke="#8FAFAF" stroke-width="1" />
<line x1="289.00" y1="171.90" x2="291.40" y2="171.90" stroke="#8FAFAF" stroke-width="1" />
<text x="288.40" y="174.80" font-size="10.5" text-anchor="end" fill="#222" stroke="#222" stroke-width="0.2" >8</text>
<line x1="291.40" y1="249.70" x2="291.40" y2="250.90" stroke="#A0A0A0" stroke-width="1" />
<line x1="318.10" y1="249.70" x2="318.10" y2="250.90" stroke="#A0A0A0" stroke-width="1" />
<line x1="344.80" y1="249.70" x2="344.80" y2="250.90" stroke="#A0A0A0" stroke-width="1" />
<line x1="371.50" y1="249.70" x2="371.50" y2="250.90" stroke="#A0A0A0" stroke-width="1" />
<line x1="398.20" y1="249.70" x2="398.20" y2="250.90" stroke="#A0A0A0" stroke-width="1" />
<text x="290.90" y="260.70" font-size="10.5" text-anchor="middle" fill="#222" stroke="#222" stroke-width="0.2" >0</text>
<text x="344.30" y="260.70" font-size="10.5" text-anchor="middle" fill="#222" stroke="#222" stroke-width="0.2" >20</text>
<text x="397.70" y="260.70" font-size="10.5" text-anchor="middle" fill="#222" stroke="#222" stroke-width="0.2" >40</text>
<text x="290.70" y="159.40" font-size="14.0" text-anchor="start" font-weight="bold" fill="#222" stroke="#222" stroke-width="0.2" >(c1)</text>
<text x="344.60" y="268.00" font-size="10.5" text-anchor="middle" fill="#222" stroke="#222" stroke-width="0.2" >time (fs)</text>
<clipPath id="cp11"><rect x="422.5" y="163.0" width="106.8" height="86.69999999999999"/></clipPath>
<g clip-path="url(#cp11)">
<polyline points="447.46,206.73 447.93,206.58 448.40,206.29 448.87,205.85 449.33,205.32 449.80,204.77 450.27,204.35 450.74,204.21 451.21,204.51 451.68,205.33 452.15,206.67 452.62,208.40 453.09,210.21 453.56,211.72 454.03,212.45 454.50,212.01 454.97,210.19 455.44,207.06 455.91,203.02 456.38,198.78 456.84,195.30 457.31,193.53 457.78,194.20 458.25,197.61 458.72,203.48 459.19,210.86 459.66,218.34 460.13,224.24 460.60,227.04 461.07,225.71 461.54,220.07 462.01,210.89 462.48,199.84 462.95,189.13 463.42,181.14 463.88,177.80 464.35,180.16 464.82,188.08 465.29,200.22 465.76,214.25 466.23,227.35 466.70,236.80 467.17,240.55 467.64,237.70 468.11,228.71 468.58,215.28 469.05,200.00 469.52,185.83 469.99,175.48 470.46,170.86 470.92,172.74 471.39,180.61 471.86,192.87 472.33,207.13 472.80,220.75 473.27,231.34 473.74,237.17 474.21,237.47 474.68,232.50 475.15,223.41 475.62,212.01 476.09,200.37 476.56,190.47 477.03,183.82 477.50,181.29 477.96,182.98 478.43,188.29 478.90,196.09 479.37,204.91 479.84,213.27 480.31,219.85 480.78,223.76 481.25,224.61 481.72,222.50 482.19,218.03 482.66,212.09 483.13,205.74 483.60,200.00 484.07,195.74 484.54,193.48 485.00,193.41 485.47,195.35 485.94,198.83 486.41,203.19 486.88,207.65 487.35,211.53 487.82,214.27 488.29,215.53 488.76,215.26 489.23,213.61 489.70,210.97 490.17,207.82 490.64,204.71 491.11,202.10 491.58,200.38 492.04,199.71 492.51,200.13 492.98,201.47 493.45,203.45 493.92,205.70 494.39,207.86 494.86,209.59 495.33,210.66 495.80,210.96 496.27,210.52 496.74,209.45 497.21,207.99 497.68,206.39 498.15,204.91 498.62,203.77 499.08,203.12 499.55,203.02 500.02,203.44 500.49,204.27 500.96,205.34 501.43,206.47 501.90,207.48 502.37,208.22 502.84,208.60 503.31,208.59 503.78,208.22 504.25,207.59 504.72,206.81 505.19,206.02 505.66,205.33 506.12,204.86 506.59,204.65 507.06,204.72 507.53,205.02 508.00,205.50 508.47,206.06 508.94,206.61 509.41,207.07 509.88,207.37 510.35,207.47 510.82,207.39 511.29,207.14 511.76,206.79 512.23,206.38 512.70,206.00 513.16,205.70 513.63,205.52 514.10,205.47 514.57,205.56 515.04,205.75 515.51,206.02 515.98,206.30 516.45,206.56 516.92,206.76 517.39,206.87 517.86,206.88 518.33,206.80 518.80,206.65 519.27,206.46 519.74,206.26 520.20,206.08 520.67,205.95 521.14,205.89 521.61,205.90 522.08,205.96 522.55,206.08 523.02,206.22 523.49,206.36 523.96,206.48 524.43,206.56 524.90,206.59 525.37,206.58 525.84,206.52 526.31,206.44 526.78,206.34 527.24,206.24 527.71,206.16 528.18,206.11 528.65,206.09 529.12,206.11 529.59,206.15" fill="none" stroke="#A6B8EE" stroke-width="1.3" stroke-linejoin="round" />
<polyline points="446.96,206.73 447.43,206.58 447.90,206.29 448.37,205.85 448.83,205.32 449.30,204.77 449.77,204.35 450.24,204.21 450.71,204.51 451.18,205.33 451.65,206.67 452.12,208.40 452.59,210.21 453.06,211.72 453.53,212.45 454.00,212.01 454.47,210.19 454.94,207.06 455.41,203.02 455.88,198.78 456.34,195.30 456.81,193.53 457.28,194.20 457.75,197.61 458.22,203.48 458.69,210.86 459.16,218.34 459.63,224.24 460.10,227.04 460.57,225.71 461.04,220.07 461.51,210.89 461.98,199.84 462.45,189.13 462.92,181.14 463.38,177.80 463.85,180.16 464.32,188.08 464.79,200.22 465.26,214.25 465.73,227.35 466.20,236.80 466.67,240.55 467.14,237.70 467.61,228.71 468.08,215.28 468.55,200.00 469.02,185.83 469.49,175.48 469.96,170.86 470.42,172.74 470.89,180.61 471.36,192.87 471.83,207.13 472.30,220.75 472.77,231.34 473.24,237.17 473.71,237.47 474.18,232.50 474.65,223.41 475.12,212.01 475.59,200.37 476.06,190.47 476.53,183.82 477.00,181.29 477.46,182.98 477.93,188.29 478.40,196.09 478.87,204.91 479.34,213.27 479.81,219.85 480.28,223.76 480.75,224.61 481.22,222.50 481.69,218.03 482.16,212.09 482.63,205.74 483.10,200.00 483.57,195.74 484.04,193.48 484.50,193.41 484.97,195.35 485.44,198.83 485.91,203.19 486.38,207.65 486.85,211.53 487.32,214.27 487.79,215.53 488.26,215.26 488.73,213.61 489.20,210.97 489.67,207.82 490.14,204.71 490.61,202.10 491.08,200.38 491.54,199.71 492.01,200.13 492.48,201.47 492.95,203.45 493.42,205.70 493.89,207.86 494.36,209.59 494.83,210.66 495.30,210.96 495.77,210.52 496.24,209.45 496.71,207.99 497.18,206.39 497.65,204.91 498.12,203.77 498.58,203.12 499.05,203.02 499.52,203.44 499.99,204.27 500.46,205.34 500.93,206.47 501.40,207.48 501.87,208.22 502.34,208.60 502.81,208.59 503.28,208.22 503.75,207.59 504.22,206.81 504.69,206.02 505.16,205.33 505.62,204.86 506.09,204.65 506.56,204.72 507.03,205.02 507.50,205.50 507.97,206.06 508.44,206.61 508.91,207.07 509.38,207.37 509.85,207.47 510.32,207.39 510.79,207.14 511.26,206.79 511.73,206.38 512.20,206.00 512.66,205.70 513.13,205.52 513.60,205.47 514.07,205.56 514.54,205.75 515.01,206.02 515.48,206.30 515.95,206.56 516.42,206.76 516.89,206.87 517.36,206.88 517.83,206.80 518.30,206.65 518.77,206.46 519.24,206.26 519.70,206.08 520.17,205.95 520.64,205.89 521.11,205.90 521.58,205.96 522.05,206.08 522.52,206.22 522.99,206.36 523.46,206.48 523.93,206.56 524.40,206.59 524.87,206.58 525.34,206.52 525.81,206.44 526.28,206.34 526.74,206.24 527.21,206.16 527.68,206.11 528.15,206.09 528.62,206.11 529.09,206.15" fill="none" stroke="#2C3AB8" stroke-width="0.9" stroke-linejoin="round" />
<polyline points="446.96,205.68 447.43,205.54 447.90,205.37 448.37,205.17 448.83,204.94 449.30,204.66 449.77,204.35 450.24,203.99 450.71,203.59 451.18,203.13 451.65,202.62 452.12,202.06 452.59,201.43 453.06,200.76 453.53,200.02 454.00,199.23 454.47,198.39 454.94,197.49 455.41,196.55 455.88,195.57 456.34,194.55 456.81,193.49 457.28,192.40 457.75,191.29 458.22,190.16 458.69,189.02 459.16,187.87 459.63,186.71 460.10,185.55 460.57,184.40 461.04,183.25 461.51,182.11 461.98,180.99 462.45,179.89 462.92,178.82 463.38,177.78 463.85,176.79 464.32,175.83 464.79,174.94 465.26,174.10 465.73,173.34 466.20,172.65 466.67,172.05 467.14,171.55 467.61,171.14 468.08,170.83 468.55,170.63 469.02,170.54 469.49,170.55 469.96,170.68 470.42,170.90 470.89,171.22 471.36,171.64 471.83,172.14 472.30,172.72 472.77,173.38 473.24,174.10 473.71,174.87 474.18,175.68 474.65,176.54 475.12,177.42 475.59,178.32 476.06,179.24 476.53,180.16 477.00,181.09 477.46,182.01 477.93,182.92 478.40,183.81 478.87,184.69 479.34,185.55 479.81,186.39 480.28,187.20 480.75,187.99 481.22,188.75 481.69,189.49 482.16,190.20 482.63,190.89 483.10,191.54 483.57,192.17 484.04,192.78 484.50,193.36 484.97,193.92 485.44,194.45 485.91,194.97 486.38,195.46 486.85,195.93 487.32,196.37 487.79,196.80 488.26,197.22 488.73,197.61 489.20,197.99 489.67,198.35 490.14,198.69 490.61,199.02 491.08,199.34 491.54,199.64 492.01,199.93 492.48,200.20 492.95,200.47 493.42,200.72 493.89,200.96 494.36,201.19 494.83,201.42 495.30,201.63 495.77,201.83 496.24,202.02 496.71,202.21 497.18,202.39 497.65,202.56 498.12,202.72 498.58,202.87 499.05,203.02 499.52,203.17 499.99,203.30 500.46,203.43 500.93,203.56 501.40,203.67 501.87,203.79 502.34,203.90 502.81,204.00 503.28,204.10 503.75,204.20 504.22,204.29 504.69,204.38 505.16,204.46 505.62,204.54 506.09,204.61 506.56,204.69 507.03,204.76 507.50,204.82 507.97,204.89 508.44,204.95 508.91,205.01 509.38,205.06 509.85,205.12 510.32,205.17 510.79,205.22 511.26,205.27 511.73,205.31 512.20,205.35 512.66,205.39 513.13,205.43 513.60,205.47 514.07,205.51 514.54,205.54 515.01,205.57 515.48,205.61 515.95,205.64 516.42,205.66 516.89,205.69 517.36,205.72 517.83,205.74 518.30,205.77 518.77,205.79 519.24,205.81 519.70,205.83 520.17,205.85 520.64,205.87 521.11,205.89 521.58,205.91 522.05,205.93 522.52,205.94 522.99,205.96 523.46,205.97 523.93,205.99 524.40,206.00 524.87,206.01 525.34,206.03 525.81,206.04 526.28,206.05 526.74,206.06 527.21,206.07 527.68,206.08 528.15,206.09 528.62,206.10 529.09,206.11" fill="none" stroke="#449E56" stroke-width="1.0" stroke-linejoin="round" />
<polyline points="422.55,206.30 423.02,206.30 423.49,206.30 423.96,206.30 424.43,206.30 424.90,206.30 425.37,206.30 425.84,206.30 426.31,206.30 426.78,206.30 427.25,206.30 427.71,206.30 428.18,206.30 428.65,206.30 429.12,206.30 429.59,206.30 430.06,206.30 430.53,206.30 431.00,206.30 431.47,206.31 431.94,206.31 432.41,206.31 432.88,206.30 433.35,206.30 433.82,206.29 434.29,206.28 434.75,206.28 435.22,206.27 435.69,206.27 436.16,206.27 436.63,206.29 437.10,206.31 437.57,206.35 438.04,206.39 438.51,206.42 438.98,206.44 439.45,206.44 439.92,206.40 440.39,206.32 440.86,206.20 441.33,206.06 441.79,205.93 442.26,205.82 442.73,205.80 443.20,205.87 443.67,206.07 444.14,206.39 444.61,206.79 445.08,207.21 445.55,207.57 446.02,207.76 446.49,207.69 446.96,207.30 447.43,206.60 447.90,205.65 448.37,204.59 448.83,203.61 449.30,202.95 449.77,202.82 450.24,203.36 450.71,204.60 451.18,206.44 451.65,208.62 452.12,210.76 452.59,212.42 453.06,213.19 453.53,212.76 454.00,211.03 454.47,208.14 454.94,204.49 455.41,200.69 455.88,197.45 456.34,195.46 456.81,195.25 457.28,197.04 457.75,200.69 458.22,205.69 458.69,211.21 459.16,216.26 459.63,219.86 460.10,221.27 460.57,220.11 461.04,216.45 461.51,210.87 461.98,204.32 462.45,197.95 462.92,192.92 463.38,190.16 463.85,190.16 464.32,192.94 464.79,197.98 465.26,204.35 465.73,210.90 466.20,216.47 466.67,220.12 467.14,221.27 467.61,219.85 468.08,216.24 468.55,211.18 469.02,205.67 469.49,200.67 469.96,197.03 470.42,195.24 470.89,195.47 471.36,197.46 471.83,200.71 472.30,204.51 472.77,208.16 473.24,211.04 473.71,212.76 474.18,213.19 474.65,212.41 475.12,210.75 475.59,208.61 476.06,206.43 476.53,204.59 477.00,203.35 477.46,202.82 477.93,202.95 478.40,203.62 478.87,204.59 479.34,205.65 479.81,206.61 480.28,207.31 480.75,207.69 481.22,207.76 481.69,207.57 482.16,207.21 482.63,206.79 483.10,206.39 483.57,206.07 484.04,205.87 484.50,205.80 484.97,205.82 485.44,205.93 485.91,206.06 486.38,206.20 486.85,206.32 487.32,206.40 487.79,206.44 488.26,206.44 488.73,206.42 489.20,206.39 489.67,206.35 490.14,206.31" fill="none" stroke="#3a3a3a" stroke-width="0.9" stroke-linejoin="round" />
</g>
<rect x="422.5" y="163.0" width="106.8" height="86.69999999999999" fill="none" stroke="#A0A0A0" stroke-width="1"/>
<line x1="422.50" y1="163.00" x2="422.50" y2="249.70" stroke="#8FAFAF" stroke-width="1" />
<line x1="420.10" y1="240.70" x2="422.50" y2="240.70" stroke="#8FAFAF" stroke-width="1" />
<line x1="421.20" y1="232.10" x2="422.50" y2="232.10" stroke="#8FAFAF" stroke-width="1" />
<line x1="420.10" y1="223.50" x2="422.50" y2="223.50" stroke="#8FAFAF" stroke-width="1" />
<line x1="421.20" y1="214.90" x2="422.50" y2="214.90" stroke="#8FAFAF" stroke-width="1" />
<line x1="420.10" y1="206.30" x2="422.50" y2="206.30" stroke="#8FAFAF" stroke-width="1" />
<line x1="421.20" y1="197.70" x2="422.50" y2="197.70" stroke="#8FAFAF" stroke-width="1" />
<line x1="420.10" y1="189.10" x2="422.50" y2="189.10" stroke="#8FAFAF" stroke-width="1" />
<line x1="421.20" y1="180.50" x2="422.50" y2="180.50" stroke="#8FAFAF" stroke-width="1" />
<line x1="420.10" y1="171.90" x2="422.50" y2="171.90" stroke="#8FAFAF" stroke-width="1" />
<line x1="422.50" y1="249.70" x2="422.50" y2="250.90" stroke="#A0A0A0" stroke-width="1" />
<line x1="449.20" y1="249.70" x2="449.20" y2="250.90" stroke="#A0A0A0" stroke-width="1" />
<line x1="475.90" y1="249.70" x2="475.90" y2="250.90" stroke="#A0A0A0" stroke-width="1" />
<line x1="502.60" y1="249.70" x2="502.60" y2="250.90" stroke="#A0A0A0" stroke-width="1" />
<line x1="529.30" y1="249.70" x2="529.30" y2="250.90" stroke="#A0A0A0" stroke-width="1" />
<text x="422.00" y="260.70" font-size="10.5" text-anchor="middle" fill="#222" stroke="#222" stroke-width="0.2" >0</text>
<text x="475.40" y="260.70" font-size="10.5" text-anchor="middle" fill="#222" stroke="#222" stroke-width="0.2" >20</text>
<text x="528.80" y="260.70" font-size="10.5" text-anchor="middle" fill="#222" stroke="#222" stroke-width="0.2" >40</text>
<text x="421.80" y="159.40" font-size="14.0" text-anchor="start" font-weight="bold" fill="#222" stroke="#222" stroke-width="0.2" >(c2)</text>
<text x="475.70" y="268.00" font-size="10.5" text-anchor="middle" fill="#222" stroke="#222" stroke-width="0.2" >time (fs)</text>
<clipPath id="cp12"><rect x="554.3" y="163.0" width="106.8" height="86.69999999999999"/></clipPath>
<g clip-path="url(#cp12)">
<polyline points="571.75,206.86 572.22,206.67 572.69,206.34 573.16,205.90 573.63,205.40 574.09,204.96 574.56,204.67 575.03,204.65 575.50,204.98 575.97,205.68 576.44,206.70 576.91,207.89 577.38,209.06 577.85,209.94 578.32,210.28 578.79,209.88 579.26,208.65 579.73,206.68 580.20,204.20 580.67,201.63 581.13,199.47 581.60,198.25 582.07,198.41 582.54,200.15 583.01,203.42 583.48,207.82 583.95,212.66 584.42,217.05 584.89,220.03 585.36,220.82 585.83,218.93 586.30,214.37 586.77,207.67 587.24,199.85 587.71,192.30 588.17,186.49 588.64,183.75 589.11,184.91 589.58,190.16 590.05,198.89 590.52,209.76 590.99,220.92 591.46,230.30 591.93,236.02 592.40,236.77 592.87,232.07 593.34,222.48 593.81,209.48 594.28,195.28 594.75,182.39 595.22,173.20 595.68,169.48 596.15,172.08 596.62,180.67 597.09,193.87 597.56,209.42 598.03,224.62 598.50,236.82 598.97,243.90 599.44,244.64 599.91,238.97 600.38,227.92 600.85,213.45 601.32,198.07 601.79,184.36 602.26,174.57 602.72,170.18 603.19,171.72 603.66,178.70 604.13,189.78 604.60,202.97 605.07,216.07 605.54,227.02 606.01,234.22 606.48,236.77 606.95,234.56 607.42,228.23 607.89,219.01 608.36,208.47 608.83,198.28 609.30,189.92 609.76,184.50 610.23,182.60 610.70,184.25 611.17,188.95 611.64,195.81 612.11,203.70 612.58,211.42 613.05,217.89 613.52,222.27 613.99,224.10 614.46,223.28 614.93,220.10 615.40,215.18 615.87,209.33 616.34,203.45 616.80,198.38 617.27,194.79 617.74,193.11 618.21,193.45 618.68,195.63 619.15,199.21 619.62,203.57 620.09,208.00 620.56,211.84 621.03,214.58 621.50,215.87 621.97,215.64 622.44,214.03 622.91,211.41 623.38,208.23 623.84,205.04 624.31,202.32 624.78,200.44 625.25,199.61 625.72,199.88 626.19,201.09 626.66,202.98 627.13,205.19 627.60,207.36 628.07,209.15 628.54,210.33 629.01,210.77 629.48,210.49 629.95,209.59 630.42,208.29 630.88,206.82 631.35,205.42 631.82,204.31 632.29,203.62 632.76,203.42 633.23,203.68 633.70,204.31 634.17,205.18 634.64,206.12 635.11,206.99 635.58,207.66 636.05,208.04 636.52,208.11 636.99,207.90 637.46,207.47 637.92,206.90 638.39,206.31 638.86,205.79 639.33,205.40 639.80,205.19 640.27,205.18 640.74,205.34 641.21,205.63 641.68,205.99 642.15,206.35 642.62,206.67 643.09,206.89 643.56,207.00 644.03,206.99 644.50,206.87 644.96,206.68 645.43,206.46 645.90,206.23 646.37,206.04 646.84,205.91 647.31,205.86 647.78,205.88 648.25,205.96 648.72,206.09 649.19,206.23 649.66,206.37 650.13,206.48 650.60,206.55 651.07,206.57 651.54,206.56 652.00,206.50 652.47,206.42 652.94,206.33 653.41,206.25 653.88,206.18 654.35,206.14 654.82,206.13 655.29,206.15 655.76,206.18 656.23,206.24 656.70,206.29 657.17,206.34 657.64,206.38 658.11,206.40 658.58,206.41 659.04,206.39 659.51,206.37 659.98,206.33 660.45,206.30 660.92,206.27 661.39,206.25" fill="none" stroke="#A6B8EE" stroke-width="1.3" stroke-linejoin="round" />
<polyline points="571.25,206.86 571.72,206.67 572.19,206.34 572.66,205.90 573.13,205.40 573.59,204.96 574.06,204.67 574.53,204.65 575.00,204.98 575.47,205.68 575.94,206.70 576.41,207.89 576.88,209.06 577.35,209.94 577.82,210.28 578.29,209.88 578.76,208.65 579.23,206.68 579.70,204.20 580.17,201.63 580.63,199.47 581.10,198.25 581.57,198.41 582.04,200.15 582.51,203.42 582.98,207.82 583.45,212.66 583.92,217.05 584.39,220.03 584.86,220.82 585.33,218.93 585.80,214.37 586.27,207.67 586.74,199.85 587.21,192.30 587.67,186.49 588.14,183.75 588.61,184.91 589.08,190.16 589.55,198.89 590.02,209.76 590.49,220.92 590.96,230.30 591.43,236.02 591.90,236.77 592.37,232.07 592.84,222.48 593.31,209.48 593.78,195.28 594.25,182.39 594.72,173.20 595.18,169.48 595.65,172.08 596.12,180.67 596.59,193.87 597.06,209.42 597.53,224.62 598.00,236.82 598.47,243.90 598.94,244.64 599.41,238.97 599.88,227.92 600.35,213.45 600.82,198.07 601.29,184.36 601.76,174.57 602.22,170.18 602.69,171.72 603.16,178.70 603.63,189.78 604.10,202.97 604.57,216.07 605.04,227.02 605.51,234.22 605.98,236.77 606.45,234.56 606.92,228.23 607.39,219.01 607.86,208.47 608.33,198.28 608.80,189.92 609.26,184.50 609.73,182.60 610.20,184.25 610.67,188.95 611.14,195.81 611.61,203.70 612.08,211.42 612.55,217.89 613.02,222.27 613.49,224.10 613.96,223.28 614.43,220.10 614.90,215.18 615.37,209.33 615.84,203.45 616.30,198.38 616.77,194.79 617.24,193.11 617.71,193.45 618.18,195.63 618.65,199.21 619.12,203.57 619.59,208.00 620.06,211.84 620.53,214.58 621.00,215.87 621.47,215.64 621.94,214.03 622.41,211.41 622.88,208.23 623.34,205.04 623.81,202.32 624.28,200.44 624.75,199.61 625.22,199.88 625.69,201.09 626.16,202.98 626.63,205.19 627.10,207.36 627.57,209.15 628.04,210.33 628.51,210.77 628.98,210.49 629.45,209.59 629.92,208.29 630.38,206.82 630.85,205.42 631.32,204.31 631.79,203.62 632.26,203.42 632.73,203.68 633.20,204.31 633.67,205.18 634.14,206.12 634.61,206.99 635.08,207.66 635.55,208.04 636.02,208.11 636.49,207.90 636.96,207.47 637.42,206.90 637.89,206.31 638.36,205.79 638.83,205.40 639.30,205.19 639.77,205.18 640.24,205.34 640.71,205.63 641.18,205.99 641.65,206.35 642.12,206.67 642.59,206.89 643.06,207.00 643.53,206.99 644.00,206.87 644.46,206.68 644.93,206.46 645.40,206.23 645.87,206.04 646.34,205.91 646.81,205.86 647.28,205.88 647.75,205.96 648.22,206.09 648.69,206.23 649.16,206.37 649.63,206.48 650.10,206.55 650.57,206.57 651.04,206.56 651.50,206.50 651.97,206.42 652.44,206.33 652.91,206.25 653.38,206.18 653.85,206.14 654.32,206.13 654.79,206.15 655.26,206.18 655.73,206.24 656.20,206.29 656.67,206.34 657.14,206.38 657.61,206.40 658.08,206.41 658.54,206.39 659.01,206.37 659.48,206.33 659.95,206.30 660.42,206.27 660.89,206.25" fill="none" stroke="#2C3AB8" stroke-width="0.9" stroke-linejoin="round" />
<polyline points="571.25,205.57 571.72,205.46 572.19,205.34 572.66,205.20 573.13,205.04 573.59,204.87 574.06,204.67 574.53,204.45 575.00,204.22 575.47,203.95 575.94,203.66 576.41,203.34 576.88,202.99 577.35,202.61 577.82,202.20 578.29,201.75 578.76,201.26 579.23,200.74 579.70,200.18 580.17,199.57 580.63,198.93 581.10,198.25 581.57,197.53 582.04,196.76 582.51,195.95 582.98,195.11 583.45,194.22 583.92,193.30 584.39,192.35 584.86,191.35 585.33,190.33 585.80,189.28 586.27,188.21 586.74,187.11 587.21,186.00 587.67,184.87 588.14,183.74 588.61,182.60 589.08,181.47 589.55,180.34 590.02,179.23 590.49,178.14 590.96,177.07 591.43,176.03 591.90,175.03 592.37,174.07 592.84,173.16 593.31,172.30 593.78,171.50 594.25,170.76 594.72,170.09 595.18,169.48 595.65,168.96 596.12,168.50 596.59,168.13 597.06,167.84 597.53,167.63 598.00,167.50 598.47,167.45 598.94,167.49 599.41,167.61 599.88,167.80 600.35,168.07 600.82,168.41 601.29,168.83 601.76,169.30 602.22,169.84 602.69,170.44 603.16,171.08 603.63,171.78 604.10,172.51 604.57,173.28 605.04,174.07 605.51,174.89 605.98,175.73 606.45,176.58 606.92,177.44 607.39,178.30 607.86,179.15 608.33,180.01 608.80,180.85 609.26,181.68 609.73,182.49 610.20,183.29 610.67,184.06 611.14,184.82 611.61,185.55 612.08,186.27 612.55,186.95 613.02,187.62 613.49,188.27 613.96,188.89 614.43,189.50 614.90,190.09 615.37,190.65 615.84,191.21 616.30,191.74 616.77,192.27 617.24,192.78 617.71,193.27 618.18,193.76 618.65,194.23 619.12,194.69 619.59,195.15 620.06,195.59 620.53,196.02 621.00,196.44 621.47,196.85 621.94,197.25 622.41,197.65 622.88,198.03 623.34,198.40 623.81,198.76 624.28,199.11 624.75,199.45 625.22,199.78 625.69,200.09 626.16,200.40 626.63,200.69 627.10,200.98 627.57,201.25 628.04,201.51 628.51,201.76 628.98,202.00 629.45,202.23 629.92,202.45 630.38,202.66 630.85,202.86 631.32,203.05 631.79,203.23 632.26,203.40 632.73,203.56 633.20,203.72 633.67,203.86 634.14,204.00 634.61,204.13 635.08,204.26 635.55,204.38 636.02,204.49 636.49,204.59 636.96,204.69 637.42,204.78 637.89,204.87 638.36,204.96 638.83,205.03 639.30,205.11 639.77,205.18 640.24,205.24 640.71,205.31 641.18,205.36 641.65,205.42 642.12,205.47 642.59,205.52 643.06,205.56 643.53,205.61 644.00,205.65 644.46,205.69 644.93,205.72 645.40,205.76 645.87,205.79 646.34,205.82 646.81,205.85 647.28,205.87 647.75,205.90 648.22,205.92 648.69,205.94 649.16,205.97 649.63,205.99 650.10,206.00 650.57,206.02 651.04,206.04 651.50,206.05 651.97,206.07 652.44,206.08 652.91,206.09 653.38,206.11 653.85,206.12 654.32,206.13 654.79,206.14 655.26,206.15 655.73,206.16 656.20,206.17 656.67,206.17 657.14,206.18 657.61,206.19 658.08,206.19 658.54,206.20 659.01,206.21 659.48,206.21 659.95,206.22 660.42,206.22 660.89,206.23" fill="none" stroke="#449E56" stroke-width="1.0" stroke-linejoin="round" />
<polyline points="554.35,206.30 554.82,206.30 555.29,206.30 555.76,206.30 556.23,206.30 556.70,206.30 557.17,206.30 557.64,206.30 558.11,206.29 558.58,206.29 559.05,206.28 559.51,206.28 559.98,206.28 560.45,206.29 560.92,206.30 561.39,206.31 561.86,206.33 562.33,206.35 562.80,206.36 563.27,206.37 563.74,206.36 564.21,206.33 564.68,206.29 565.15,206.24 565.62,206.17 566.09,206.12 566.55,206.09 567.02,206.09 567.49,206.14 567.96,206.24 568.43,206.39 568.90,206.56 569.37,206.73 569.84,206.85 570.31,206.90 570.78,206.83 571.25,206.63 571.72,206.31 572.19,205.90 572.66,205.46 573.13,205.09 573.59,204.88 574.06,204.90 574.53,205.21 575.00,205.81 575.47,206.64 575.94,207.59 576.41,208.48 576.88,209.12 577.35,209.34 577.82,209.01 578.29,208.08 578.76,206.64 579.23,204.88 579.70,203.09 580.17,201.61 580.63,200.79 581.10,200.89 581.57,202.02 582.04,204.12 582.51,206.92 582.98,209.98 583.45,212.75 583.92,214.67 584.39,215.27 584.86,214.30 585.33,211.76 585.80,207.97 586.27,203.51 586.74,199.15 587.21,195.70 587.67,193.87 588.14,194.13 588.61,196.57 589.08,200.90 589.55,206.45 590.02,212.28 590.49,217.35 590.96,220.72 591.43,221.70 591.90,220.03 592.37,215.92 592.84,210.04 593.31,203.38 593.78,197.13 594.25,192.38 594.72,189.99 595.18,190.38 595.65,193.50 596.12,198.77 596.59,205.26 597.06,211.81 597.53,217.29 598.00,220.76 598.47,221.69 598.94,220.00 599.41,216.07 599.88,210.68 600.35,204.82 600.82,199.53 601.29,195.68 601.76,193.83 602.22,194.19 602.69,196.53 603.16,200.32 603.63,204.79 604.10,209.13 604.57,212.62 605.04,214.73 605.51,215.25 605.98,214.24 606.45,212.03 606.92,209.12 607.39,206.08 607.86,203.44 608.33,201.60 608.80,200.76 609.26,200.94 609.73,201.97 610.20,203.57 610.67,205.39 611.14,207.09 611.61,208.40 612.08,209.16 612.55,209.33 613.02,208.98 613.49,208.25 613.96,207.32 614.43,206.39 614.90,205.62 615.37,205.09 615.84,204.87 616.30,204.92 616.77,205.19 617.24,205.58 617.71,206.02 618.18,206.41 618.65,206.70 619.12,206.86 619.59,206.90 620.06,206.83 620.53,206.68 621.00,206.51 621.47,206.34 621.94,206.21 622.41,206.12 622.88,206.08 623.34,206.09 623.81,206.13 624.28,206.19 624.75,206.25 625.22,206.31 625.69,206.34 626.16,206.36 626.63,206.37" fill="none" stroke="#3a3a3a" stroke-width="0.9" stroke-linejoin="round" />
</g>
<rect x="554.3" y="163.0" width="106.8" height="86.69999999999999" fill="none" stroke="#A0A0A0" stroke-width="1"/>
<line x1="554.30" y1="163.00" x2="554.30" y2="249.70" stroke="#8FAFAF" stroke-width="1" />
<line x1="551.90" y1="240.70" x2="554.30" y2="240.70" stroke="#8FAFAF" stroke-width="1" />
<line x1="553.00" y1="232.10" x2="554.30" y2="232.10" stroke="#8FAFAF" stroke-width="1" />
<line x1="551.90" y1="223.50" x2="554.30" y2="223.50" stroke="#8FAFAF" stroke-width="1" />
<line x1="553.00" y1="214.90" x2="554.30" y2="214.90" stroke="#8FAFAF" stroke-width="1" />
<line x1="551.90" y1="206.30" x2="554.30" y2="206.30" stroke="#8FAFAF" stroke-width="1" />
<line x1="553.00" y1="197.70" x2="554.30" y2="197.70" stroke="#8FAFAF" stroke-width="1" />
<line x1="551.90" y1="189.10" x2="554.30" y2="189.10" stroke="#8FAFAF" stroke-width="1" />
<line x1="553.00" y1="180.50" x2="554.30" y2="180.50" stroke="#8FAFAF" stroke-width="1" />
<line x1="551.90" y1="171.90" x2="554.30" y2="171.90" stroke="#8FAFAF" stroke-width="1" />
<line x1="554.30" y1="249.70" x2="554.30" y2="250.90" stroke="#A0A0A0" stroke-width="1" />
<line x1="581.00" y1="249.70" x2="581.00" y2="250.90" stroke="#A0A0A0" stroke-width="1" />
<line x1="607.70" y1="249.70" x2="607.70" y2="250.90" stroke="#A0A0A0" stroke-width="1" />
<line x1="634.40" y1="249.70" x2="634.40" y2="250.90" stroke="#A0A0A0" stroke-width="1" />
<line x1="661.10" y1="249.70" x2="661.10" y2="250.90" stroke="#A0A0A0" stroke-width="1" />
<text x="553.80" y="260.70" font-size="10.5" text-anchor="middle" fill="#222" stroke="#222" stroke-width="0.2" >0</text>
<text x="607.20" y="260.70" font-size="10.5" text-anchor="middle" fill="#222" stroke="#222" stroke-width="0.2" >20</text>
<text x="660.60" y="260.70" font-size="10.5" text-anchor="middle" fill="#222" stroke="#222" stroke-width="0.2" >40</text>
<text x="553.60" y="159.40" font-size="14.0" text-anchor="start" font-weight="bold" fill="#222" stroke="#222" stroke-width="0.2" >(c3)</text>
<text x="607.50" y="268.00" font-size="10.5" text-anchor="middle" fill="#222" stroke="#222" stroke-width="0.2" >time (fs)</text>
<text x="295.30" y="58.20" font-size="12" text-anchor="start" fill="#222" stroke="#222" stroke-width="0.2" >Au</text>
<text x="295.30" y="178.20" font-size="12" text-anchor="start" fill="#222" stroke="#222" stroke-width="0.2" >Ag</text>
</svg>
</body></html>
